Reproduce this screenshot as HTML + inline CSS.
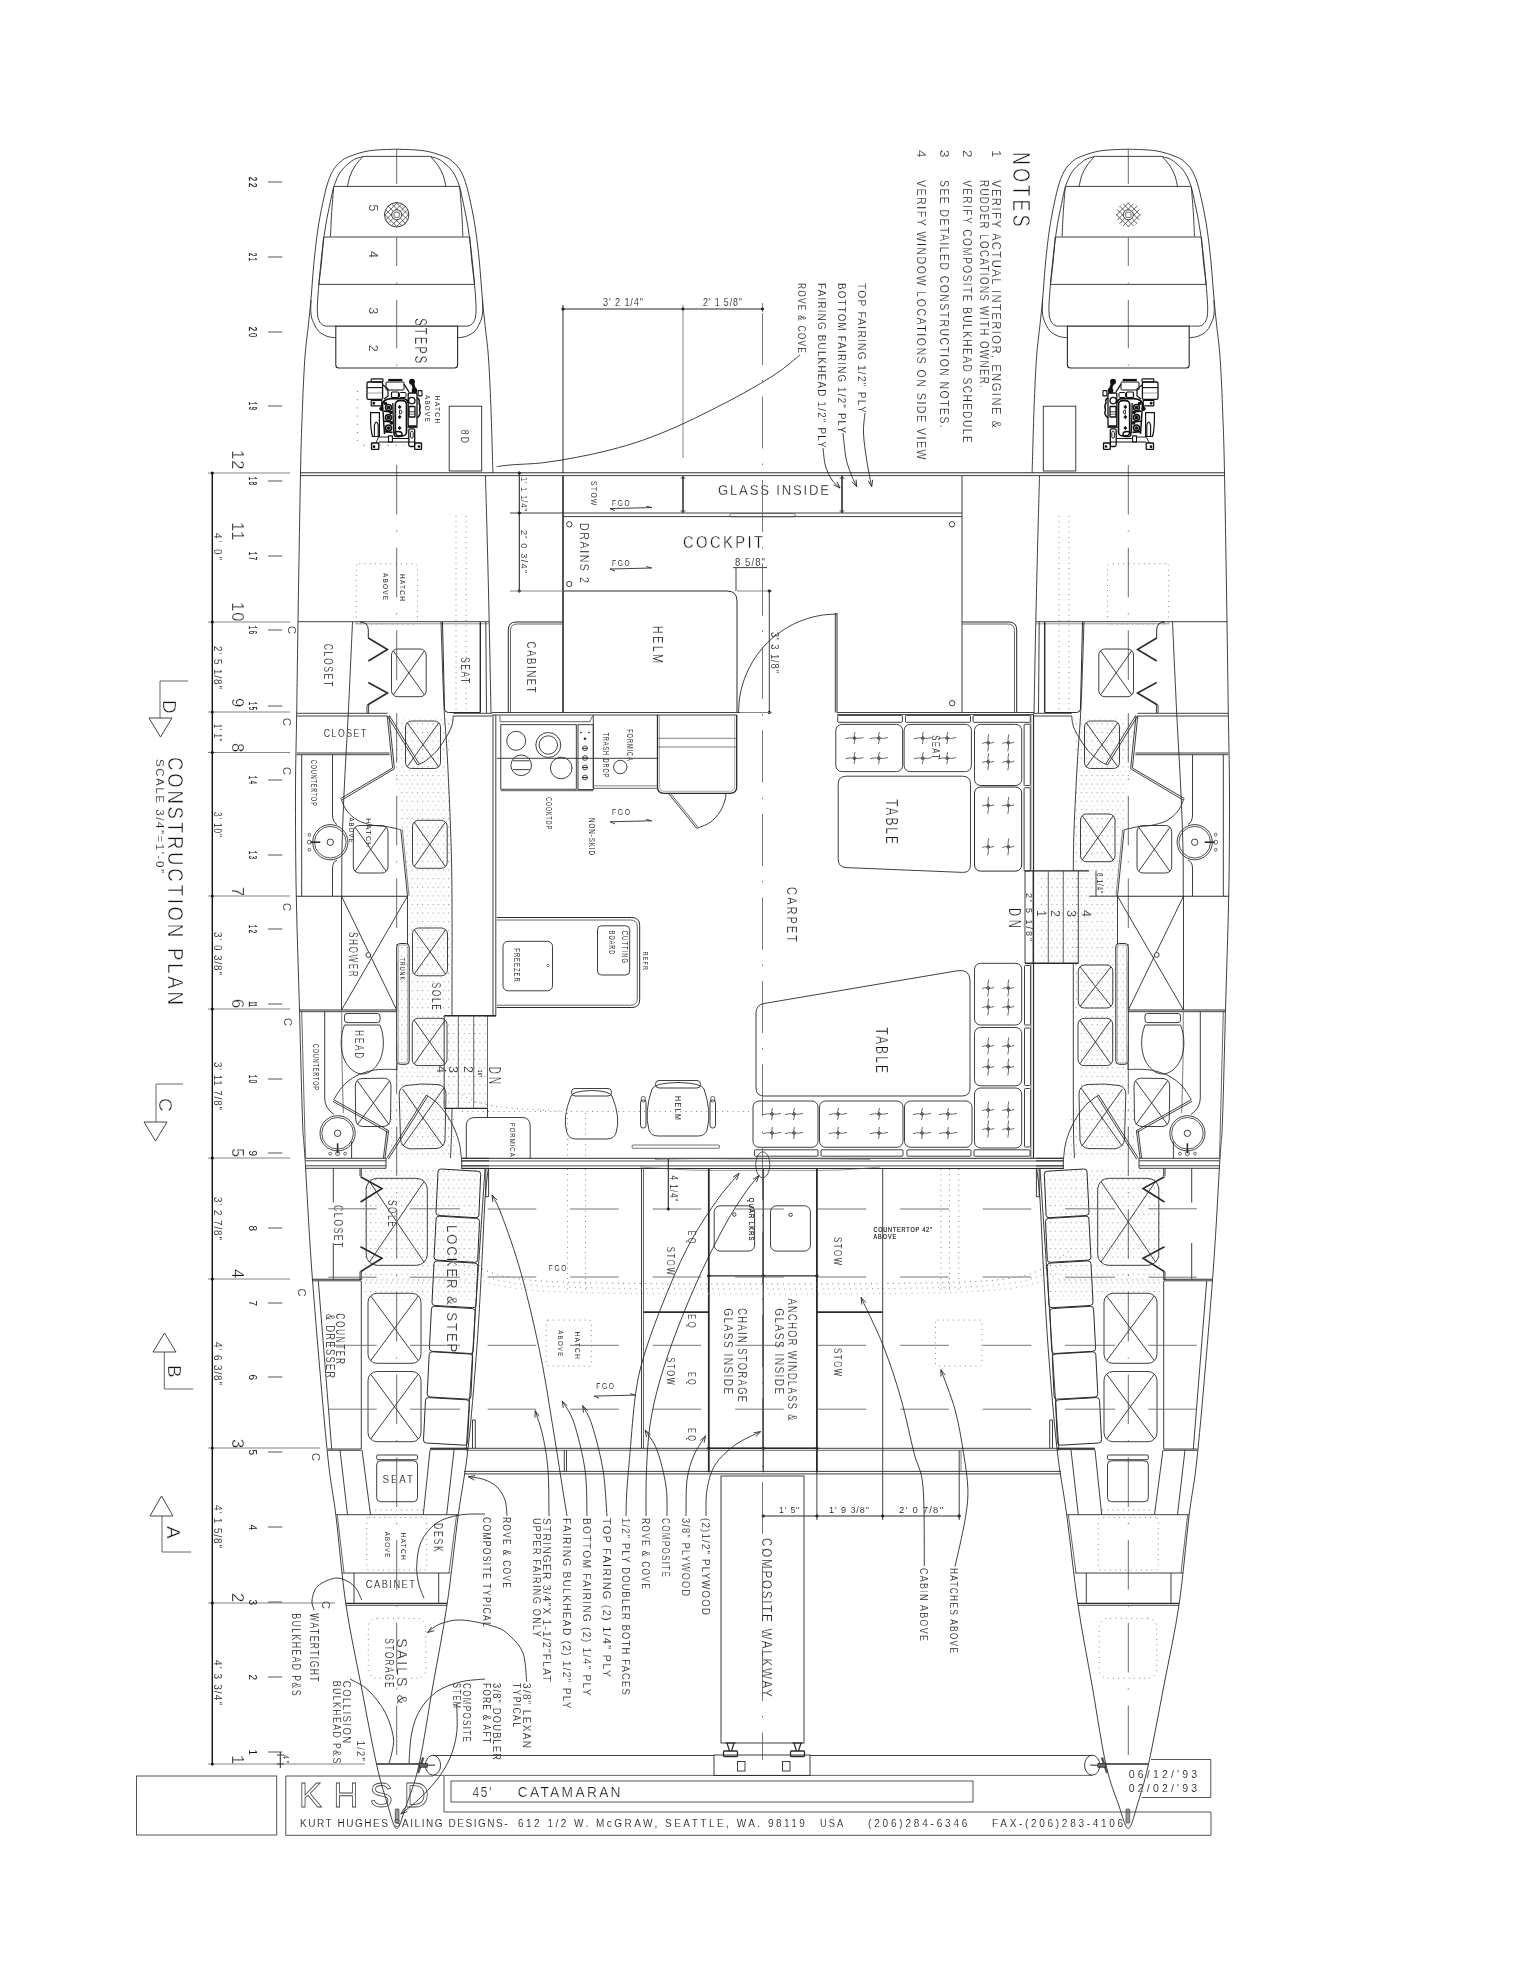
<!DOCTYPE html><html><head><meta charset="utf-8"><title>Construction Plan</title><style>html,body{margin:0;padding:0;background:#fff}svg{display:block;filter:grayscale(1)}</style></head><body><svg width="1530" height="1980" viewBox="0 0 1530 1980" fill="none" stroke="#2a2a2a" stroke-width="0.9" font-family="Liberation Sans, sans-serif">
<defs><clipPath id="hc"><circle cx="396.7" cy="214.8" r="12.2"/></clipPath>
<pattern id="stip" width="5.2" height="8.6" patternUnits="userSpaceOnUse"><rect x="1" y="1" width="1" height="1" fill="#8a8a8a" stroke="none"/><rect x="3.6" y="5.3" width="1" height="1" fill="#c4c4c4" stroke="none"/></pattern>
<g id="hull"><path d="M388 716H453L448 760L452 870V1015H444V1108H452L461 1158H386L388 1130L397 1070V944H408V896L401 830L395 768Z" fill="url(#stip)" stroke="none"/>
<path d="M386 1168H488L478 1300H366L361 1280V1168Z" fill="url(#stip)" stroke="none"/>
<path d="M396.7 149.2C393.9 149.3 384.6 149.5 379.8 149.8C375 150.1 371.5 150.4 368 151C364.5 151.6 361.6 152.4 358.6 153.3C355.6 154.2 352.6 155.2 350 156.3C347.4 157.4 345.3 157.9 342.7 160C340.1 162.1 336.7 164.9 334.2 168.6C331.7 172.3 329.8 176.6 327.9 182.4C326 188.2 324.3 195.7 322.6 203.6C320.9 211.5 319.2 220.3 317.8 230C316.4 239.7 315.1 250.5 314 262C312.9 273.5 311.9 288.4 311 299C310.1 309.6 309.3 316 308.3 325.6C307.3 335.2 306 343.2 305 356.7C304 370.2 303.2 387.3 302.5 406.7C301.8 426.1 301.2 437.1 300.5 473C299.8 508.9 298.6 582 298 622C297.4 662 297.1 685 296.7 713C296.3 741 295.6 759.3 295.5 790C295.4 820.7 295.6 860.3 296.3 897C297 933.7 298.5 972.8 299.5 1010C300.5 1047.2 301.6 1095.3 302.5 1120C303.4 1144.7 303.3 1131.3 305 1158C306.7 1184.7 308.8 1231.5 312.5 1280C316.2 1328.5 323.1 1409.9 327 1449C330.9 1488.1 332.6 1488.7 335.8 1514.7C339 1540.7 341.8 1576.6 346 1605C350.2 1633.4 355.9 1658.3 361 1685C366.1 1711.7 372.2 1744.8 376.7 1765C381.2 1785.2 385.2 1796.2 388 1806C390.8 1815.8 392.1 1820.2 393.5 1824C394.9 1827.8 396.2 1828.2 396.7 1829" />
<path d="M396.7 149.2C399.5 149.3 408.8 149.5 413.6 149.8C418.4 150.1 421.9 150.4 425.4 151C428.9 151.6 431.8 152.4 434.8 153.3C437.8 154.2 440.8 155.2 443.4 156.3C446 157.4 448.1 157.9 450.7 160C453.3 162.1 456.7 164.9 459.2 168.6C461.7 172.3 463.6 176.6 465.5 182.4C467.4 188.2 469.1 195.7 470.8 203.6C472.5 211.5 474.2 220.3 475.6 230C477 239.7 478.3 250.5 479.4 262C480.5 273.5 481.4 288.4 482.4 299C483.3 309.6 484.1 316 485.1 325.6C486.1 335.2 487.4 343.2 488.4 356.7C489.4 370.2 490.1 387.3 490.9 406.7C491.6 426.1 492.6 461.9 492.9 473" />
<path d="M485.5 476C485.8 488.3 486.9 525.7 487.5 550C488.1 574.3 488.6 594.8 489.2 622C489.8 649.2 490.7 697.8 491 713" />
<path d="M488.3 1168C487.8 1173.3 486.1 1183 485 1200C483.9 1217 482.9 1245 481.5 1270C480.1 1295 478.9 1320.2 476.7 1350C474.4 1379.8 471.1 1421.5 468 1449C464.9 1476.5 461.8 1488.7 458.3 1514.7C454.8 1540.7 451.2 1576.6 447 1605C442.8 1633.4 437.7 1658.3 433 1685C428.3 1711.7 423.5 1744.8 419 1765C414.5 1785.2 409.2 1796.2 406 1806C402.8 1815.8 401.6 1820.2 400 1824C398.4 1827.8 397.2 1828.2 396.7 1829" />
<path d="M364 156.4C362.7 156.8 358.3 157.6 356 158.6C353.7 159.6 352.6 160.1 350 162.3C347.4 164.5 343.2 167.9 340.6 171.8C338 175.7 336 180.3 334.2 185.6C332.4 190.9 331.4 197.1 330 203.6C328.6 210.1 327 217.7 325.8 224.8C324.6 231.9 323.7 239 322.8 246C321.9 253 321.2 259.9 320.5 267C319.8 274.1 319 281.4 318.5 288.5C318 295.6 317.2 304.4 317.3 309.7C317.4 315 317.8 317.7 318.9 320.3C319.9 322.9 321.8 324.5 323.6 325.5C325.5 326.5 328 326 330 326.1C332 326.2 334.8 326.1 335.8 326.1" />
<path d="M429.4 156.4C430.7 156.8 435.1 157.6 437.4 158.6C439.7 159.6 440.8 160.1 443.4 162.3C446 164.5 450.2 167.9 452.8 171.8C455.4 175.7 457.4 180.3 459.2 185.6C461 190.9 462 197.1 463.4 203.6C464.8 210.1 466.4 217.7 467.6 224.8C468.8 231.9 469.7 239 470.6 246C471.5 253 472.2 259.9 472.9 267C473.6 274.1 474.4 281.4 474.9 288.5C475.4 295.6 476.2 304.4 476.1 309.7C476 315 475.6 317.7 474.5 320.3C473.4 322.9 471.6 324.5 469.8 325.5C467.9 326.5 465.4 326 463.4 326.1C461.4 326.2 458.6 326.1 457.6 326.1" />
<path d="M364 156.4L429.4 156.4" />
<path d="M311 300C311 301.9 310.6 308.3 310.8 311.7C311.1 315.1 311.2 317.1 312.5 320.3C313.8 323.5 315.9 328.2 318.3 330.9C320.7 333.5 323.9 335 326.8 336.2C329.7 337.4 334.3 337.5 335.8 337.8" />
<path d="M482.4 300C482.4 301.9 482.8 308.3 482.6 311.7C482.3 315.1 482.1 317.1 480.9 320.3C479.6 323.5 477.5 328.2 475.1 330.9C472.7 333.5 469.5 335 466.6 336.2C463.7 337.4 459.1 337.5 457.6 337.8" />
<path d="M362.9 156.4C361.6 158 357.1 162.7 355 166C352.9 169.3 351.2 172.6 350 176C348.8 179.4 347.9 184.7 347.5 186.4" />
<path d="M430.5 156.4C431.8 158 436.2 162.7 438.4 166C440.5 169.3 442.1 172.6 443.4 176C444.6 179.4 445.5 184.7 445.9 186.4" />
<path d="M333.7 186.7C333.3 191.4 332 206.7 331.5 215C331 223.3 330.7 232.9 330.5 236.5" />
<path d="M459.7 186.7C460.1 191.4 461.4 206.7 461.9 215C462.4 223.3 462.7 232.9 462.9 236.5" />
<path d="M323.6 237C323.2 241.2 322.3 254.2 321.5 262C320.7 269.8 319.3 280.3 318.9 284" />
<path d="M469.8 237C470.1 241.2 471.1 254.2 471.9 262C472.7 269.8 474.1 280.3 474.5 284" />
<path d="M334.2 186.4L459.2 186.4" />
<path d="M324.2 237L469.2 237" />
<path d="M318.5 284.4L474.9 284.4" />
<path d="M335.8 326.1H457.6 V365 Q457.6 368 454.6 368 H338.8 Q335.8 368 335.8 365Z" stroke-width="1.1" />
<g clip-path="url(#hc)" stroke-width="0.7">
<path d="M353.7 200.8L381.7 228.8" />
<path d="M353.7 228.8L381.7 200.8" />
<path d="M359.5 200.8L387.5 228.8" />
<path d="M359.5 228.8L387.5 200.8" />
<path d="M365.3 200.8L393.3 228.8" />
<path d="M365.3 228.8L393.3 200.8" />
<path d="M371.1 200.8L399.1 228.8" />
<path d="M371.1 228.8L399.1 200.8" />
<path d="M376.9 200.8L404.9 228.8" />
<path d="M376.9 228.8L404.9 200.8" />
<path d="M382.7 200.8L410.7 228.8" />
<path d="M382.7 228.8L410.7 200.8" />
<path d="M388.5 200.8L416.5 228.8" />
<path d="M388.5 228.8L416.5 200.8" />
<path d="M394.3 200.8L422.3 228.8" />
<path d="M394.3 228.8L422.3 200.8" />
<path d="M400.1 200.8L428.1 228.8" />
<path d="M400.1 228.8L428.1 200.8" />
<path d="M405.9 200.8L433.9 228.8" />
<path d="M405.9 228.8L433.9 200.8" />
<path d="M411.7 200.8L439.7 228.8" />
<path d="M411.7 228.8L439.7 200.8" />
</g>
<circle cx="396.7" cy="214.8" r="5" fill="#fff"/>
<rect x="394.1" y="212.2" width="5.2" height="5.2" rx="0.8" stroke-width="0.7" />
<rect x="356.3" y="563.7" width="61.2" height="60.3" rx="3" class="dot"/>
<path d="M466 516L466 710" class="dot"/>
<path d="M456 516L456 710" class="dot"/>
<path d="M298 621.7L489 621.7" />
<path d="M355 623.8L489 623.8" stroke="#888" />
<path d="M296.7 713.3L387.5 713.3" />
<path d="M296.7 716L387.5 716" />
<path d="M453.3 713.3L492 713.3" />
<path d="M453.3 716L492 716" />
<path d="M296.7 753L389.5 753" />
<path d="M296.7 754.7L389.7 754.7" />
<path d="M296.3 896.2L407.5 896.2" stroke-width="1.1" />
<path d="M299.5 1010L396.7 1010" stroke-width="1.1" />
<path d="M299.5 1011.7L396.7 1011.7" />
<path d="M305.5 1158.3L386 1158.3" />
<path d="M461.7 1158.3L489 1158.3" />
<path d="M305.5 1160.8L386 1160.8" />
<path d="M461.7 1160.8L489 1160.8" />
<path d="M305.5 1165.8L386 1165.8" />
<path d="M461.7 1165.8L489 1165.8" />
<path d="M305.5 1168.3L386 1168.3" />
<path d="M461.7 1168.3L489 1168.3" />
<path d="M386 1158.3L386 1168.3" />
<path d="M461.7 1158.3L461.7 1168.3" />
<path d="M312.5 1279.2L361 1279.2" stroke-width="1.1" />
<path d="M312.5 1280.8L361 1280.8" />
<path d="M327.5 1449L361.3 1449" />
<path d="M327.5 1450.3L361.3 1450.3" />
<path d="M430 1448.3L468 1448.3" />
<path d="M430 1449.6L468 1449.6" />
<path d="M335.8 1514.7L458.3 1514.7" />
<path d="M342 1573L450.3 1573" />
<path d="M346 1603.3L447 1603.3" stroke-width="1.2" />
<path d="M346 1605.3L447 1605.3" />
<path d="M354 1573L354 1603" />
<path d="M438.7 1573L438.7 1603" />
<path d="M376.7 1764L419 1764" stroke-width="1.4" />
<path d="M442.5 622L444.5 709Q445 712.5 448.5 712.5H480.3" stroke-width="1" />
<path d="M480.3 622L480.3 712.5" stroke-width="1.4" />
<path d="M485.8 622L486.5 713" />
<path d="M352.5 622C351.8 637.2 349.7 685 348.3 713C346.9 741 345.2 767.2 344.2 790C343.1 812.8 342.4 832.2 342 850C341.6 867.8 341.8 889.2 341.7 897" />
<path d="M341.7 1012C341.8 1020 341.7 1043.2 342 1060C342.3 1076.8 343.1 1104.2 343.3 1113" stroke="#666" />
<path d="M360 622Q368.3 622 368.3 630V638" stroke-width="1" />
<path d="M368.3 638L387.5 649.5L368.3 661" stroke-width="1.6" />
<path d="M368.3 682.5L387.5 693L367.5 705" stroke-width="1.6" />
<path d="M367 705L367 713" />
<path d="M368.6 705L368.6 713" />
<path d="M387.5 716L417.5 765" />
<path d="M389.3 715.5L419.2 764" />
<path d="M453.3 716C453.1 717.5 453 721.8 452 725C451 728.2 450 730.8 447.5 735C445 739.2 440.6 746.2 437 750.5C433.4 754.8 429.2 758.1 426 760.5C422.8 762.9 419.2 764.2 417.8 765" />
<path d="M387.2 716L392.6 768L341 798.3" />
<path d="M389 716L394.4 768.8L342 799.9" />
<path d="M340.8 798.3C341.8 800.4 344.1 807.3 347 811C349.9 814.7 353.6 818.1 358 820.5C362.4 822.9 368.6 824.3 373.3 825.3C378 826.3 381.4 825.8 386 826.5C390.6 827.2 398.3 829.2 400.8 829.7" />
<path d="M400.8 829.7L407.5 896" />
<path d="M402.4 829.7L409 896" stroke="#777" />
<path d="M301.7 754.7L301.7 896" />
<path d="M332.5 754.7V815Q332.5 822 337 824.5" stroke-width="0.9" />
<path d="M337 860Q332.5 862 332.5 868V896" stroke-width="0.9" />
<circle cx="330.3" cy="842.2" r="17.6" /><circle cx="330.3" cy="842.2" r="15.8" stroke-width="0.8" /><circle cx="330.3" cy="842.2" r="3.2" /><path d="M320.3 842.2L310.3 842.2" stroke-width="1.6" /><circle cx="309.3" cy="834.7" r="1.4" stroke-width="0.7" /><circle cx="309.3" cy="842.2" r="2" stroke-width="0.7" /><circle cx="309.3" cy="849.7" r="1.4" stroke-width="0.7" />
<path d="M324.7 1011.7V1098Q324.7 1108 334 1114.5" stroke-width="0.9" />
<circle cx="337.6" cy="1133.3" r="17.6" /><circle cx="337.6" cy="1133.3" r="15.8" stroke-width="0.8" /><circle cx="337.6" cy="1133.3" r="3.2" /><path d="M337.6 1143.3L337.6 1153.3" stroke-width="1.6" /><circle cx="330.1" cy="1153.6" r="1.4" stroke-width="0.7" /><circle cx="337.6" cy="1153.6" r="2" stroke-width="0.7" /><circle cx="345.1" cy="1153.6" r="1.4" stroke-width="0.7" />
<path d="M351.6 1141.6L351.6 1158" />
<path d="M301.7 1011.7L305.5 1158" stroke="#555" />
<path d="M341.5 896.2L341.5 1010" />
<path d="M407.5 896.2L407.5 944" />
<path d="M407.5 896.2L341.5 1010" />
<path d="M341.5 896.2L396.7 1010" />
<circle cx="368.3" cy="955" r="2.4" fill="#fff"/>
<rect x="396.7" y="943.5" width="12.5" height="120.8" rx="3.5" stroke-width="1" />
<rect x="398.3" y="945" width="9.4" height="117.8" rx="2.5" stroke-width="0.6" stroke="#777" />
<path d="M396.9 1064L396.9 1070" />
<rect x="344.5" y="1013.5" width="35.5" height="9.1" rx="2.5" />
<path d="M344.5 1025H380C384.5 1036 384.5 1050 380 1060C375 1070 368 1074 362.3 1074C356.5 1074 349.5 1070 344.5 1060C340 1050 340 1036 344.5 1025Z" />
<path d="M388.6 1130.6L333.7 1099.7" />
<path d="M387.8 1132.2L332.9 1101.3" />
<path d="M333.7 1099.7C335.2 1097.4 339.3 1090 343 1086C346.7 1082 351.2 1078.6 356 1076C360.8 1073.4 367.2 1071.6 372 1070.5C376.8 1069.4 380.8 1069.5 385 1069.3C389.2 1069.1 395 1069.5 397 1069.5" />
<path d="M388.6 1130.6L385 1158" />
<path d="M386.8 1130.6L383.4 1158" />
<path d="M386.6 1158.5L426.4 1095" />
<path d="M388.3 1159.2L428 1096" />
<path d="M426.4 1095C428.2 1096.3 433.6 1099.7 437 1103C440.4 1106.3 444.1 1110.7 447 1115C449.9 1119.3 452.4 1124.2 454.5 1129C456.6 1133.8 458.4 1139.2 459.5 1144C460.6 1148.8 461.1 1155.7 461.4 1158" />
<rect x="391.5" y="649" width="34.7" height="47.7" rx="6" /><path d="M393.3 650.8L424.4 694.9" /><path d="M424.4 650.8L393.3 694.9" />
<rect x="405.5" y="721" width="35" height="47.5" rx="6" /><path d="M407.3 722.8L438.7 766.7" /><path d="M438.7 722.8L407.3 766.7" />
<rect x="353.3" y="825.5" width="34.7" height="47.5" rx="6" /><path d="M355.1 827.3L386.2 871.2" /><path d="M386.2 827.3L355.1 871.2" />
<rect x="412.3" y="1018.3" width="34.7" height="47.3" rx="6" /><path d="M414.1 1020.1L445.2 1063.8" /><path d="M445.2 1020.1L414.1 1063.8" />
<path d="M406 1085.5Q420 1083 438 1084.5Q446 1086 446 1094L445 1140Q444 1148 436 1148.5L410 1148.8Q401 1147 400.5 1139L399.2 1094Q399.5 1087 406 1085.5Z" />
<path d="M402.5 1089L443 1146" />
<path d="M444 1088L403 1146" />
<path d="M362 1078.5L384.5 1078.2Q391 1079 391 1086L390.5 1119Q390 1126 383 1126.5L363 1126.5Q356 1126 355.7 1119L355.3 1086Q355.5 1079 362 1078.5Z" />
<path d="M357.5 1081L389 1124.5" />
<path d="M389.5 1081L357.5 1124.5" />
<path d="M360 1168.3L360 1176" />
<path d="M361.3 1168.3L361.3 1176" />
<path d="M360.5 1176.7L382 1188.5L360.5 1202" stroke-width="1.6" />
<path d="M360.5 1246.7L382 1258.3L360.5 1271.7" stroke-width="1.6" />
<path d="M360 1271.7L360 1280" />
<path d="M361.3 1271.7L361.3 1280" />
<path d="M333.3 1168.3L333.3 1202.5" />
<path d="M333.3 1243L333.3 1279" />
<rect x="366.2" y="1178.3" width="61.1" height="87" rx="11" /><path d="M369.5 1181.6L424 1262" /><path d="M424 1181.6L369.5 1262" />
<rect x="368" y="1293.3" width="53" height="70" rx="9" /><path d="M370.7 1296L418.3 1360.6" /><path d="M418.3 1296L370.7 1360.6" />
<rect x="368" y="1371.5" width="53" height="70.2" rx="9" /><path d="M370.7 1374.2L418.3 1439" /><path d="M418.3 1374.2L370.7 1439" />
<path d="M361.3 1280.8L361.3 1449" />
<path d="M318.3 1281L331.7 1449" />
<path d="M485 1169L466.2 1449" />
<path d="M438 1171.8Q438.2 1168.8 441.2 1169L477.8 1171.2Q480.8 1171.4 480.7 1174.4L478.9 1214.9Q478.8 1217.9 475.8 1217.7L438.8 1215.5Q435.8 1215.3 436 1212.3Z" stroke-width="1" />
<path d="M436.1 1219Q436.3 1216 439.3 1216.2L476.6 1218.4Q479.6 1218.6 479.5 1221.6L477.7 1259.5Q477.6 1262.5 474.6 1262.3L436.9 1260.1Q433.9 1259.9 434.1 1256.9Z" stroke-width="1" />
<path d="M434 1263.7Q434.2 1260.7 437.2 1260.9L474.9 1263.1Q477.9 1263.3 477.8 1266.3L476 1304.9Q475.9 1307.9 472.9 1307.7L434.8 1305.5Q431.8 1305.3 432 1302.3Z" stroke-width="1" />
<path d="M431.4 1309.1Q431.6 1306.1 434.6 1306.3L472.2 1308.5Q475.2 1308.7 475.1 1311.7L473.3 1350.7Q473.2 1353.7 470.2 1353.5L432.2 1351.3Q429.2 1351.1 429.4 1348.1Z" stroke-width="1" />
<path d="M429.2 1354.6Q429.4 1351.6 432.4 1351.8L469.8 1354Q472.8 1354.2 472.7 1357.2L470.9 1396.4Q470.8 1399.4 467.8 1399.2L430 1397Q427 1396.8 427.2 1393.8Z" stroke-width="1" />
<path d="M425.5 1400.4Q425.7 1397.4 428.7 1397.6L466.5 1399.8Q469.5 1400 469.4 1403L467.6 1442.4Q467.5 1445.4 464.5 1445.2L426.3 1443Q423.3 1442.8 423.5 1439.8Z" stroke-width="1" />
<path d="M485.8 1169L485.8 1196.7" />
<path d="M488.6 1169L488.6 1196.7" />
<path d="M485.8 1196.7L488.6 1196.7" />
<path d="M472.5 1420L472.5 1448" />
<path d="M475.3 1420L475.3 1448" />
<path d="M472.5 1420L475.3 1420" />
<rect x="376.7" y="1455" width="40.8" height="4.7" rx="1" />
<rect x="376.7" y="1460.8" width="40.8" height="40.9" rx="4" />
<path d="M340 1450L347.5 1514.7" />
<path d="M362 1450L370.5 1514.7" />
<path d="M454 1450L446.7 1514.7" />
<path d="M430 1450L423.3 1514.7" />
<path d="M370 1510L423 1510" class="dot"/>
<path d="M337.3 1515L344 1573" stroke="#555" />
<path d="M456.6 1515L449 1573" stroke="#555" />
<rect x="366.7" y="1517.5" width="60" height="52.5" rx="2" class="dot"/>
<rect x="368.3" y="1618.3" width="57.5" height="60" rx="9" class="dot"/>
<rect x="395.3" y="1809" width="3.7" height="14" rx="0.5" stroke-width="0.6" fill="#999"/>
<path d="M396.7 465L396.7 1760" stroke-width="0.8" stroke="#444" stroke-dasharray="49.5 16 1.2 16"/>
<path d="M396.7 149L396.7 184" stroke-width="0.8" stroke="#444" />
<path d="M396.7 237.5L396.7 266" stroke-width="0.8" stroke="#444" />
<path d="M396.7 282.5L396.7 283.7" stroke-width="0.8" stroke="#444" />
<path d="M396.7 300L396.7 348.3" stroke-width="0.8" stroke="#444" />
<path d="M396.7 364.5L396.7 365.7" stroke-width="0.8" stroke="#444" />
<path d="M328.3 1208.8L376.7 1208.8" stroke="#666" />
<path d="M410 1208.8L460 1208.8" stroke="#666" />
<path d="M328.3 1277.2L376.7 1277.2" stroke="#666" />
<path d="M410 1277.2L460 1277.2" stroke="#666" />
<path d="M328.3 1345.3L376.7 1345.3" stroke="#666" />
<path d="M410 1345.3L460 1345.3" stroke="#666" />
<path d="M328.3 1409.2L376.7 1409.2" stroke="#666" />
<path d="M410 1409.2L460 1409.2" stroke="#666" />
<path d="M366 1280L469 1280" class="dot"/></g><g id="eng"><g stroke="#111" stroke-width="1.1"><rect x="367" y="382" width="15.6" height="17.4" rx="1.5" stroke-width="1.3" /><path d="M367 387.6L382.6 387.6" /><rect x="371.2" y="378.8" width="11.8" height="3.2" rx="0.8" stroke-width="1.2" /><path d="M368 393L382 393" stroke-width="0.6" stroke="#666" /><path d="M388.2 380L402.4 380" stroke-width="2.2" /><rect x="386" y="382" width="18" height="8" rx="1" stroke-width="1" /><rect x="391.5" y="392" width="7" height="5.5" rx="1" stroke-width="1.2" /><rect x="399.5" y="392.5" width="6.5" height="5" rx="1" stroke-width="1" /><path d="M383 385L388 389L388 396L384 399" stroke-width="1.2" /><path d="M404 384L409 392" stroke-width="1.4" /><circle cx="412" cy="381.8" r="2.4" fill="#111"/><path d="M412.5 383L414.7 389.6" stroke-width="3" /><circle cx="414.5" cy="390.5" r="2.3" fill="#111"/><rect x="408.2" y="393" width="8.8" height="32.9" rx="1" stroke-width="1.3" /><circle cx="411.8" cy="400.6" r="3.2" stroke-width="1.3" /><rect x="409" y="406.5" width="6" height="10.5" rx="0.6" stroke-width="1.3" /><path d="M409 411.8L415 411.8" stroke-width="0.8" /><path d="M409 414.2L415 414.2" stroke-width="0.6" /><rect x="418.2" y="390.6" width="3.8" height="5.3" rx="0.5" stroke-width="1.1" /><path d="M417 398Q420 399 419 403Q421 406 419.5 410Q421 413 419 416L417 418" stroke-width="1.4" /><path d="M382 411V406Q382.5 399 391 398.6H403Q407.5 399 408 403" stroke-width="1.8" /><rect x="395.3" y="400.6" width="11.2" height="35.3" rx="4" stroke-width="1.7" /><path d="M399.7 405.3L401.2 407L399.7 408.7L398.2 407Z" stroke-width="0.8" fill="#111"/><path d="M399.7 415.3L401.2 417L399.7 418.7L398.2 417Z" stroke-width="0.8" fill="#111"/><path d="M399.7 426.3L401.2 428L399.7 429.7L398.2 428Z" stroke-width="0.8" fill="#111"/><path d="M399.5 410.2H401Q403 412 401 413.8H399.5Z" stroke-width="0.9" /><rect x="371.2" y="400.3" width="10.6" height="5.6" rx="0.4" stroke-width="1.2" /><circle cx="373.8" cy="403.2" r="0.9" fill="#111"/><path d="M370.6 412.6H379.4V436.5H372.5Q370.3 430 370.6 412.6Z" stroke-width="1.2" /><path d="M374.4 436.5V425Q376.3 419 378.2 425V436.5" stroke-width="1.1" /><circle cx="388.5" cy="407.5" r="3" stroke-width="1.6" /><circle cx="388.5" cy="407.5" r="1.3" fill="#111"/><path d="M384 411.1L392.5 411.9" stroke-width="1.6" /><circle cx="388.5" cy="417.6" r="3" stroke-width="1.6" /><circle cx="388.5" cy="417.6" r="1.3" fill="#111"/><path d="M384 421.2L392.5 422" stroke-width="1.6" /><circle cx="388.5" cy="428" r="3" stroke-width="1.6" /><circle cx="388.5" cy="428" r="1.3" fill="#111"/><path d="M384 431.6L392.5 432.4" stroke-width="1.6" /><path d="M382.5 404L384.5 434" stroke-width="1.5" /><path d="M392.8 403L393.6 433" stroke-width="1.3" /><circle cx="381.3" cy="408.8" r="1.5" fill="#111"/><circle cx="385.5" cy="403.5" r="1.2" fill="#111"/><circle cx="391" cy="412.5" r="1.2" fill="#111"/><circle cx="391.3" cy="423" r="1.2" fill="#111"/><rect x="408.8" y="428.8" width="5.9" height="17.7" rx="1.5" stroke-width="1.3" /><rect x="410.6" y="431.2" width="2.6" height="7" rx="1.2" stroke-width="0.9" /><path d="M407.5 427L417.5 427" stroke-width="1.8" /><ellipse cx="398" cy="434" rx="4" ry="2.6" stroke-width="1.5"/><rect x="388.5" y="435.9" width="3.9" height="6.1" rx="0.3" stroke-width="1.1" /><path d="M379 437L389 437" stroke-width="0.9" /><path d="M379 442L415 442" stroke-width="1.2" /><path d="M393 438.5L408.5 438.5" stroke-width="1" /><rect x="371.5" y="443" width="7.3" height="6.4" rx="0.5" stroke-width="1.3" /><rect x="414.7" y="443" width="6.8" height="6.4" rx="0.5" stroke-width="1.3" /><circle cx="374" cy="446.7" r="0.8" fill="#111"/><circle cx="419" cy="446.5" r="0.8" fill="#111"/><path d="M376 443L378.5 437" stroke-width="0.9" /></g></g></defs>
<style>text{fill:#151515} .dot{stroke:#888;stroke-dasharray:1 4.2;stroke-width:1} .g{stroke:#777}</style>
<rect width="1530" height="1980" fill="#fff" stroke="none"/>
<use href="#hull"/><use href="#eng"/>
<g transform="translate(1525 0) scale(-1 1)"><use href="#hull"/><use href="#eng"/></g>
<rect x="412.5" y="820.3" width="34.7" height="48" rx="6" /><path d="M414.3 822.1L445.4 866.5" /><path d="M445.4 822.1L414.3 866.5" />
<rect x="412.5" y="928" width="35" height="47.8" rx="6" /><path d="M414.3 929.8L445.7 974" /><path d="M445.7 929.8L414.3 974" />
<rect x="444" y="1016" width="43" height="92" fill="url(#stip)" stroke="none"/>
<path d="M487.5 1108.3L487.5 1117.5" />
<path d="M444.2 1015.8L496 1015.8" stroke-width="1.5" />
<path d="M444.2 1108.3L487.5 1108.3" stroke-width="1.2" />
<path d="M444.2 1015.8L444.2 1108.3" />
<path d="M458.3 1015.8L458.3 1108.3" stroke="#555" />
<path d="M473.7 1015.8L473.7 1108.3" stroke="#555" />
<path d="M487.5 1015.8L487.5 1108.3" stroke="#555" />
<text transform="translate(437.2 1066) rotate(90)" font-size="12.5" stroke="#fff" stroke-width="0.19" >4</text>
<text transform="translate(449 1066) rotate(90)" font-size="12.5" stroke="#fff" stroke-width="0.19" >3</text>
<text transform="translate(463.8 1066) rotate(90)" font-size="12.5" stroke="#fff" stroke-width="0.19" >2</text>
<text transform="translate(478.2 1070) rotate(90) scale(0.782 1)" font-size="5" letter-spacing="0.81" stroke="#151515" stroke-width="0.18" >16&quot;</text>
<text transform="translate(489.1 1066.7) rotate(90) scale(0.595 1)" font-size="16.5" letter-spacing="5.23" stroke="#fff" stroke-width="0.33" >DN</text>
<path d="M441 622C441.5 636.1 442.9 683.7 444 706.7C445.1 729.7 446.2 732.8 447.5 760C448.8 787.2 450.9 827.5 451.7 870C452.4 912.5 451.9 990.8 452 1015" />
<path d="M452 1108C451.9 1111.7 451.9 1121.7 451.7 1130C451.4 1138.3 450.7 1153.3 450.5 1158" />
<circle cx="396.7" cy="214.8" r="12.2" />
<text transform="translate(369 204.4) rotate(90)" font-size="12.5" stroke="#fff" stroke-width="0.19" >5</text>
<text transform="translate(369 251) rotate(90)" font-size="12.5" stroke="#fff" stroke-width="0.19" >4</text>
<text transform="translate(369 307.2) rotate(90)" font-size="12.5" stroke="#fff" stroke-width="0.19" >3</text>
<text transform="translate(369 344.8) rotate(90)" font-size="12.5" stroke="#fff" stroke-width="0.19" >2</text>
<text transform="translate(415 318.3) rotate(90) scale(0.703 1)" font-size="16" letter-spacing="2.88" stroke="#fff" stroke-width="0.31" >STEPS</text>
<text transform="translate(434.6 395.8) rotate(90) scale(0.836 1)" font-size="8" letter-spacing="1.48" stroke="#fff" stroke-width="0.03" >HATCH</text>
<text transform="translate(424.6 395) rotate(90) scale(0.794 1)" font-size="8" letter-spacing="1.51" stroke="#fff" stroke-width="0.03" >ABOVE</text>
<text transform="translate(460.9 429.7) rotate(90) scale(0.742 1)" font-size="11.5" letter-spacing="3.23" stroke="#fff" stroke-width="0.15" >8D</text>
<text transform="translate(400.1 574) rotate(90) scale(0.821 1)" font-size="8" letter-spacing="1.48" stroke="#fff" stroke-width="0.03" >HATCH</text>
<text transform="translate(383.1 573) rotate(90) scale(0.803 1)" font-size="8" letter-spacing="1.51" stroke="#fff" stroke-width="0.03" >ABOVE</text>
<text transform="translate(324.1 643.7) rotate(90) scale(0.647 1)" font-size="13.5" letter-spacing="2.37" stroke="#fff" stroke-width="0.22" >CLOSET</text>
<text transform="translate(323.7 736.7) scale(0.759 1)" font-size="11.5" letter-spacing="2.02" stroke="#fff" stroke-width="0.15" >CLOSET</text>
<text transform="translate(310.8 760) rotate(90) scale(0.599 1)" font-size="9" letter-spacing="1.53" stroke="#fff" stroke-width="0.07" >COUNTERTOP</text>
<text transform="translate(348.8 817.5) rotate(90) scale(0.744 1)" font-size="8" letter-spacing="1.51" stroke="#fff" stroke-width="0.03" >ABOVE</text>
<text transform="translate(365.9 818.3) rotate(90) scale(0.888 1)" font-size="8" letter-spacing="1.48" stroke="#fff" stroke-width="0.03" >HATCH</text>
<text transform="translate(461.3 657) rotate(90) scale(0.680 1)" font-size="12.5" letter-spacing="2.32" stroke="#fff" stroke-width="0.19" >SEAT</text>
<text transform="translate(348.8 932) rotate(90) scale(0.652 1)" font-size="12.5" letter-spacing="2.47" stroke="#fff" stroke-width="0.19" >SHOWER</text>
<text transform="translate(399.9 957.5) rotate(90) scale(0.670 1)" font-size="8" letter-spacing="1.51" stroke="#fff" stroke-width="0.03" >TRUNK</text>
<text transform="translate(432.2 982.5) rotate(90) scale(0.676 1)" font-size="12.5" letter-spacing="2.44" stroke="#fff" stroke-width="0.19" >SOLE</text>
<text transform="translate(355.1 1030) rotate(90) scale(0.619 1)" font-size="13.5" letter-spacing="2.74" stroke="#fff" stroke-width="0.22" >HEAD</text>
<text transform="translate(312.6 1044) rotate(90) scale(0.602 1)" font-size="9" letter-spacing="1.53" stroke="#fff" stroke-width="0.07" >COUNTERTOP</text>
<text transform="translate(334.1 1205) rotate(90) scale(0.645 1)" font-size="13.5" letter-spacing="2.37" stroke="#fff" stroke-width="0.22" >CLOSET</text>
<text transform="translate(388 1200) rotate(90) scale(0.656 1)" font-size="12.5" letter-spacing="2.44" stroke="#fff" stroke-width="0.19" >SOLE</text>
<text transform="translate(447.1 1225) rotate(90) scale(0.877 1)" font-size="15" letter-spacing="2.18" stroke="#fff" stroke-width="0.28" >LOCKER &amp; STEP</text>
<text transform="translate(335.7 1313.3) rotate(90) scale(0.701 1)" font-size="12" letter-spacing="2.17" stroke="#fff" stroke-width="0.17" >COUNTER</text>
<text transform="translate(326 1314) rotate(90) scale(0.760 1)" font-size="12" letter-spacing="1.90" stroke="#fff" stroke-width="0.17" >&amp; DRESSER</text>
<text transform="translate(382.5 1483.3) scale(0.857 1)" font-size="11.5" letter-spacing="2.14" stroke="#fff" stroke-width="0.15" >SEAT</text>
<text transform="translate(433.8 1523) rotate(90) scale(0.691 1)" font-size="12.5" letter-spacing="2.49" stroke="#fff" stroke-width="0.19" >DESK</text>
<text transform="translate(401.1 1532.5) rotate(90) scale(0.836 1)" font-size="8" letter-spacing="1.48" stroke="#fff" stroke-width="0.03" >HATCH</text>
<text transform="translate(384.6 1531.7) rotate(90) scale(0.767 1)" font-size="8" letter-spacing="1.51" stroke="#fff" stroke-width="0.03" >ABOVE</text>
<text transform="translate(365.8 1587.5) scale(0.887 1)" font-size="10.5" letter-spacing="1.66" stroke="#fff" stroke-width="0.12" >CABINET</text>
<text transform="translate(397.1 1638.3) rotate(90) scale(0.950 1)" font-size="15" letter-spacing="2.07" stroke="#fff" stroke-width="0.28" >SAILS &amp;</text>
<text transform="translate(384.5 1638.3) rotate(90) scale(0.663 1)" font-size="12.5" letter-spacing="2.23" stroke="#fff" stroke-width="0.19" >STORAGE</text>
<rect x="1080.5" y="814" width="34.5" height="47.7" rx="6" /><path d="M1082.3 815.8L1113.2 859.9" /><path d="M1113.2 815.8L1082.3 859.9" />
<rect x="1078.3" y="965" width="34.5" height="43" rx="6" /><path d="M1080.1 966.8L1111 1006.2" /><path d="M1111 966.8L1080.1 1006.2" />
<path d="M1084 622C1083.5 636.1 1082.1 683.7 1081 706.7C1079.9 729.7 1078.7 739.5 1077.5 760C1076.3 780.5 1074.7 811.5 1074 830C1073.3 848.5 1073.4 864 1073.3 870.8" />
<path d="M1073.3 963.3C1073.3 979.4 1073.3 1032.2 1073.3 1060C1073.3 1087.8 1073.3 1113.7 1073.5 1130C1073.7 1146.3 1074.3 1153.3 1074.5 1158" />
<rect x="1038" y="871" width="43" height="92" fill="url(#stip)" stroke="none"/>
<path d="M1025 870.8L1089 870.8" stroke-width="1.2" />
<path d="M1025 963.3L1078.3 963.3" stroke-width="1.4" />
<path d="M1078.3 870.8L1078.3 963.3" />
<path d="M1033.3 870.8L1033.3 963.3" stroke-width="1.3" />
<path d="M1025 870.8L1025 963.3" />
<path d="M1048.3 870.8L1048.3 963.3" stroke="#555" />
<path d="M1063.3 870.8L1063.3 963.3" stroke="#555" />
<text transform="translate(1081.5 910) rotate(90)" font-size="12.5" stroke="#fff" stroke-width="0.19" >4</text>
<text transform="translate(1066.5 910) rotate(90)" font-size="12.5" stroke="#fff" stroke-width="0.19" >3</text>
<text transform="translate(1050.5 910) rotate(90)" font-size="12.5" stroke="#fff" stroke-width="0.19" >2</text>
<text transform="translate(1036.5 910) rotate(90)" font-size="12.5" stroke="#fff" stroke-width="0.19" >1</text>
<text transform="translate(1096.9 873) rotate(90) scale(0.748 1)" font-size="8.5" letter-spacing="0.96" stroke="#fff" stroke-width="0.05" >8 1/4&quot;</text>
<path d="M1096 870.8L1096 896.2" />
<path d="M1089 896.2L1117.5 896.2" />
<text transform="translate(1025.8 893) rotate(90) scale(1.000 1)" font-size="9" letter-spacing="1.95" stroke="#fff" stroke-width="0.07" >2' 5 1/8&quot;</text>
<text transform="translate(1008.6 908) rotate(90) scale(0.688 1)" font-size="16.5" letter-spacing="5.23" stroke="#fff" stroke-width="0.33" >DN</text>
<path d="M300 472.8L1224.5 472.8" stroke-width="1" />
<path d="M300 475.6L1225 475.6" />
<path d="M510 513L962 513" />
<path d="M563 516.6L962 516.6" />
<path d="M563 476L563 712.5" stroke-width="1.6" />
<path d="M683 476L683 513" stroke-width="1.5" />
<path d="M842 476L842 513" stroke-width="1.6" />
<path d="M680.5 478L685.5 478" stroke-width="0.8" />
<path d="M680.5 511L685.5 511" stroke-width="0.8" />
<path d="M839.5 478L844.5 478" stroke-width="0.8" />
<path d="M839.5 511L844.5 511" stroke-width="0.8" />
<path d="M962 476L962 712.5" />
<rect x="730" y="513.6" width="65" height="3.2" rx="0.5" stroke-width="0.8" stroke="#555" />
<text transform="translate(718 495) scale(0.904 1)" font-size="14.5" letter-spacing="2.01" stroke="#fff" stroke-width="0.26" >GLASS INSIDE</text>
<text transform="translate(590.6 481) rotate(90) scale(0.709 1)" font-size="9.5" letter-spacing="2.07" stroke="#fff" stroke-width="0.08" >STOW</text>
<text transform="translate(612 505.5) scale(0.740 1)" font-size="9" letter-spacing="2.14" stroke="#fff" stroke-width="0.07" >FGO</text><path d="M610 508.6L651.8 507.6" /><path d="M610 508.6L615 510.7" /><path d="M651.8 507.6L646.3 506.2" />
<text transform="translate(612 566) scale(0.740 1)" font-size="9" letter-spacing="2.14" stroke="#fff" stroke-width="0.07" >FGO</text><path d="M610 569L651.8 568" /><path d="M610 569L615 571.1" /><path d="M651.8 568L646.3 566.6" />
<text transform="translate(683 548.3) scale(0.868 1)" font-size="17" letter-spacing="2.76" stroke="#fff" stroke-width="0.35" >COCKPIT</text>
<text transform="translate(735 566) scale(0.908 1)" font-size="10.5" letter-spacing="1.19" stroke="#fff" stroke-width="0.12" >8 5/8&quot;</text>
<path d="M733 567.6L767 567.6" />
<path d="M736 567.6L736 591" />
<text transform="translate(580.3 523) rotate(90) scale(0.821 1)" font-size="13" letter-spacing="1.88" stroke="#fff" stroke-width="0.21" >DRAINS 2</text>
<circle cx="569.3" cy="524.3" r="2.7" />
<circle cx="569.3" cy="584" r="2.7" />
<circle cx="952" cy="524.3" r="2.7" />
<circle cx="952.2" cy="703.2" r="2.7" />
<path d="M519.3 473L519.3 591" stroke-width="1.1" />
<circle cx="519.3" cy="473" r="1.2" fill="#222"/>
<circle cx="519.3" cy="513" r="1.2" fill="#222"/>
<circle cx="519.3" cy="591" r="1.2" fill="#222"/>
<path d="M510 591L563 591" stroke="#777" />
<text transform="translate(520.8 477) rotate(90) scale(0.860 1)" font-size="9" letter-spacing="0.89" stroke="#fff" stroke-width="0.07" >1' 1 1/4&quot;</text>
<text transform="translate(520.8 530) rotate(90) scale(1.000 1)" font-size="9" letter-spacing="1.32" stroke="#fff" stroke-width="0.07" >2' 0 3/4&quot;</text>
<path d="M563 591H727Q737 591 737 601V712.5" stroke-width="1" />
<path d="M769.3 591L769.3 712.5" stroke-width="0.9" />
<path d="M737 591L772 591" stroke="#777" />
<circle cx="769.3" cy="591" r="1.2" fill="#222"/>
<circle cx="769.3" cy="712.5" r="1.2" fill="#222"/>
<text transform="translate(770.9 632) rotate(90) scale(0.933 1)" font-size="10" letter-spacing="0.99" stroke="#fff" stroke-width="0.1" >3' 3 1/8&quot;</text>
<text transform="translate(652.8 625.7) rotate(90) scale(0.767 1)" font-size="14.5" letter-spacing="2.95" stroke="#fff" stroke-width="0.26" >HELM</text>
<path d="M837 613L837 712.5" stroke-width="1" />
<path d="M835.3 613L835.3 712.5" />
<path d="M837 614C834.4 614.2 826.7 614.4 821.6 615.2C816.5 616 811.4 617.2 806.6 618.8C801.7 620.4 796.9 622.4 792.3 624.7C787.7 627.1 783.3 629.8 779.1 632.8C774.9 635.8 771 639.2 767.3 642.8C763.7 646.5 760.3 650.4 757.3 654.6C754.3 658.8 751.6 663.2 749.2 667.8C746.9 672.4 744.9 677.2 743.3 682.1C741.7 686.9 740.5 692 739.7 697.1C738.9 702.2 738.7 709.9 738.5 712.5" />
<path d="M563 622H516Q508.3 622 508.3 630V712.5" stroke-width="1" />
<path d="M563 624H517Q510.5 624 510.5 630.5V712.5" stroke="#555" />
<text transform="translate(527 641.5) rotate(90) scale(0.775 1)" font-size="12.5" letter-spacing="1.98" stroke="#fff" stroke-width="0.19" >CABINET</text>
<path d="M962 622H1009Q1016.7 622 1016.7 630V712.5" stroke-width="1" />
<path d="M962 624H1008Q1014.5 624 1014.5 630.5V712.5" stroke="#555" />
<path d="M492 712.5L740 712.5" />
<path d="M492 715L737 715" />
<path d="M837 712.5L1034 712.5" />
<path d="M837 714.6L1034 714.6" />
<path d="M740 712.5L772 712.5" stroke="#777" />
<path d="M493 715L493 1015.8" />
<path d="M495.8 715L495.8 1015.8" />
<path d="M500 716V721.7H590L592.5 716" stroke="#555" />
<rect x="500.8" y="724.7" width="75.5" height="64.5" rx="0" />
<path d="M500.8 790.6L593.3 790.6" stroke-width="1.2" stroke="#777" />
<rect x="578" y="724.7" width="15.3" height="64.9" rx="0" />
<circle cx="516.2" cy="740.8" r="9.5" />
<circle cx="548.3" cy="745" r="12.5" />
<circle cx="548.3" cy="745" r="9.2" />
<circle cx="521.2" cy="765.3" r="10.3" />
<circle cx="561.2" cy="768" r="10.8" />
<path d="M512.8 760.8L529.6 760.8" />
<path d="M512.8 769.6L529.6 769.6" />
<path d="M496.7 758.3L658.3 758.3" />
<circle cx="585" cy="748.3" r="2.4" stroke-width="0.8" />
<path d="M582 748.3L588 748.3" stroke-width="1" />
<circle cx="585" cy="758" r="2.4" stroke-width="0.8" />
<path d="M582 758L588 758" stroke-width="1" />
<circle cx="585" cy="767.5" r="2.4" stroke-width="0.8" />
<path d="M582 767.5L588 767.5" stroke-width="1" />
<circle cx="585" cy="777.5" r="2.4" stroke-width="0.8" />
<path d="M582 777.5L588 777.5" stroke-width="1" />
<circle cx="585" cy="738.7" r="0.9" fill="#222"/>
<circle cx="581" cy="732.5" r="0.5" fill="#222"/>
<circle cx="589" cy="732.5" r="0.5" fill="#222"/>
<path d="M593.3 715L593.3 788.3" />
<path d="M593.3 785.8L657.5 785.8" stroke="#777" />
<path d="M593.3 788.3L657.5 788.3" stroke="#555" />
<text transform="translate(626.8 729.2) rotate(90) scale(0.624 1)" font-size="9" letter-spacing="1.52" stroke="#fff" stroke-width="0.07" >FORMICA</text>
<text transform="translate(603 732.5) rotate(90) scale(0.625 1)" font-size="9" letter-spacing="1.44" stroke="#fff" stroke-width="0.07" >TRASH DROP</text>
<circle cx="620.3" cy="767" r="6.7" />
<path d="M657.5 715V787Q657.5 793.3 664 793.3H730Q736.7 793.3 736.7 787V715" stroke-width="1.3" />
<path d="M659.5 715V786.5Q659.5 791.3 664.5 791.3H729.5Q734.7 791.3 734.7 786.5V715" stroke-width="0.6" stroke="#777" />
<path d="M658 738.3L736 738.3" stroke="#777" />
<path d="M658 747L736 747" stroke="#777" />
<path d="M668.3 793.3L696.7 828.3" />
<path d="M670 792.8L698 827.3" stroke="#555" />
<path d="M696.7 828.3C698.9 827.3 706.1 825.3 710 822.5C713.9 819.7 717.5 815.5 720 811.7C722.5 808 724 803 725 800C726 797 725.7 795 725.8 794" />
<text transform="translate(546.1 797.2) rotate(90) scale(0.620 1)" font-size="8.5" letter-spacing="1.55" stroke="#fff" stroke-width="0.05" >COOKTOP</text>
<text transform="translate(588.6 818) rotate(90) scale(0.730 1)" font-size="8.5" letter-spacing="1.30" stroke="#fff" stroke-width="0.05" >NON-SKID</text>
<text transform="translate(612 815) scale(0.757 1)" font-size="9" letter-spacing="2.14" stroke="#fff" stroke-width="0.07" >FGO</text><path d="M610 821.8L651.7 820.8" /><path d="M610 821.8L615 823.9" /><path d="M651.7 820.8L646.2 819.4" />
<path d="M496.7 917.5H631.7Q639.7 917.5 639.7 925.5V999.5Q639.7 1007.5 631.7 1007.5H496.7" stroke-width="1" />
<path d="M496.7 920H630.5Q637.3 920 637.3 926.5V998.5Q637.3 1005.2 630.5 1005.2H496.7" stroke="#555" />
<rect x="597.5" y="925.8" width="32.2" height="49.2" rx="4" />
<rect x="503" y="941.3" width="49.5" height="49.5" rx="5" />
<text transform="translate(622.4 930.8) rotate(90) scale(0.706 1)" font-size="8.5" letter-spacing="1.38" stroke="#fff" stroke-width="0.05" >CUTTING</text>
<text transform="translate(608.6 930.8) rotate(90) scale(0.635 1)" font-size="8.5" letter-spacing="1.66" stroke="#fff" stroke-width="0.05" >BOARD</text>
<text transform="translate(643.4 951.7) rotate(90) scale(0.689 1)" font-size="8" letter-spacing="1.59" stroke="#fff" stroke-width="0.03" >REFR</text>
<text transform="translate(514.4 948.3) rotate(90) scale(0.690 1)" font-size="8.5" letter-spacing="1.45" stroke="#fff" stroke-width="0.05" >FREEZER</text>
<path d="M548 964L549.5 965.5L548 967L546.5 965.5Z" stroke-width="0.7" />
<path d="M485 1015.8L496 1015.8" />
<text transform="translate(786.8 887) rotate(90) scale(0.767 1)" font-size="14.5" letter-spacing="2.58" stroke="#fff" stroke-width="0.26" >CARPET</text>
<path d="M652 1089Q654 1083 678 1082.5Q702 1083 704 1089Q712 1112 707 1130Q705 1136 698 1136H658Q651 1136 649 1130Q644 1112 652 1089Z" />
<rect x="655.5" y="1080.5" width="45" height="7.5" rx="3.5" />
<rect x="640.5" y="1100" width="5.5" height="28" rx="2.5" />
<rect x="710" y="1100" width="5.5" height="28" rx="2.5" />
<rect x="641.3" y="1096.5" width="3.9" height="5.5" rx="1.5" stroke-width="0.7" />
<rect x="710.8" y="1096.5" width="3.9" height="5.5" rx="1.5" stroke-width="0.7" />
<text transform="translate(674.9 1096) rotate(90) scale(0.833 1)" font-size="8.5" letter-spacing="1.73" stroke="#fff" stroke-width="0.05" >HELM</text>
<path d="M571 1096Q573 1091 591.5 1090.5Q610 1091 612 1096Q621 1118 616 1133Q614 1139 607 1139H576Q569 1139 567 1133Q562 1118 571 1096Z" />
<rect x="571.5" y="1088.5" width="40" height="7.5" rx="3.5" />
<rect x="632" y="1145" width="87.5" height="3.3" rx="1.6" stroke-width="1.1" stroke="#777" />
<path d="M466.3 1158.3V1126Q466.3 1117.5 475 1117.5H522Q530.2 1117.5 530.2 1126V1158.3" />
<text transform="translate(509.6 1123) rotate(90) scale(0.749 1)" font-size="8" letter-spacing="1.35" stroke="#fff" stroke-width="0.03" >FORMICA</text>
<path d="M461.5 1158.3L1063.8 1158.3" stroke-width="1" />
<path d="M461.5 1161L1063.8 1161" stroke-width="0.8" />
<path d="M461.5 1165.9L1063.8 1165.9" stroke-width="0.8" />
<path d="M461.5 1168.5L1063.8 1168.5" stroke-width="1" />
<path d="M762.8 1151.8A7 13 0 1 1 762.7 1151.8Z" stroke-width="0.8" />
<path d="M655 1159.5C662.5 1159.3 685.8 1158.7 700 1158.6C714.2 1158.5 725 1159 740 1159C755 1159 768.3 1158.5 790 1158.6C811.7 1158.7 856.7 1159.3 870 1159.5" stroke-width="0.6" stroke="#555" />
<path d="M640 1167C648.3 1167.5 675.8 1169.4 690 1170C704.2 1170.6 713 1170.4 725 1170.4C737 1170.5 749.5 1170.3 762 1170.3C774.5 1170.3 787 1170.5 800 1170.4C813 1170.4 826.7 1170.6 840 1170C853.3 1169.4 873.3 1167.5 880 1167" stroke-width="0.6" stroke="#555" />
<rect x="837.7" y="715.4" width="64.7" height="6.9" rx="1" />
<rect x="905.5" y="715.4" width="65" height="6.9" rx="1" />
<rect x="973.1" y="715.4" width="57.2" height="6.9" rx="1" />
<rect x="835.8" y="724.4" width="66.8" height="47.2" rx="6" />
<rect x="904.1" y="724.4" width="67.3" height="47.2" rx="6" />
<rect x="974.5" y="724.4" width="47.2" height="61.1" rx="6" />
<rect x="974.5" y="787" width="47.2" height="84.1" rx="6" stroke-width="1" />
<path d="M846.2 776.2H962.5Q970.5 776.2 970.5 784.2V864.5Q970.5 872.8 962.5 872.4L846.2 867.6Q838.2 867.2 838.2 859.2V784.2Q838.2 776.2 846.2 776.2Z" />
<rect x="1024.1" y="724.2" width="6.2" height="61.3" rx="1" />
<rect x="1024.1" y="787.7" width="6.2" height="83.3" rx="1" />
<path d="M1030.9 715L1030.9 871" stroke="#555" />
<path d="M1033.5 715L1033.5 1158" stroke-width="1.2" />
<path d="M845.5 738.7Q850 737.3 854.5 738.1Q859 738.9 863.5 737.5M855 732.1Q853.8 735.1 854.5 738.1Q855.2 741.1 854 744.1" stroke-width="0.7"/><circle cx="854.5" cy="738.1" r="1.4" stroke-width="0.7" />
<path d="M845.5 758.8Q850 757.4 854.5 758.2Q859 759 863.5 757.6M855 752.2Q853.8 755.2 854.5 758.2Q855.2 761.2 854 764.2" stroke-width="0.7"/><circle cx="854.5" cy="758.2" r="1.4" stroke-width="0.7" />
<path d="M869.9 738.7Q874.4 737.3 878.9 738.1Q883.4 738.9 887.9 737.5M879.4 732.1Q878.2 735.1 878.9 738.1Q879.6 741.1 878.4 744.1" stroke-width="0.7"/><circle cx="878.9" cy="738.1" r="1.4" stroke-width="0.7" />
<path d="M869.9 758.8Q874.4 757.4 878.9 758.2Q883.4 759 887.9 757.6M879.4 752.2Q878.2 755.2 878.9 758.2Q879.6 761.2 878.4 764.2" stroke-width="0.7"/><circle cx="878.9" cy="758.2" r="1.4" stroke-width="0.7" />
<path d="M913.8 738.7Q918.3 737.3 922.8 738.1Q927.3 738.9 931.8 737.5M923.3 732.1Q922.1 735.1 922.8 738.1Q923.5 741.1 922.3 744.1" stroke-width="0.7"/><circle cx="922.8" cy="738.1" r="1.4" stroke-width="0.7" />
<path d="M913.8 758.8Q918.3 757.4 922.8 758.2Q927.3 759 931.8 757.6M923.3 752.2Q922.1 755.2 922.8 758.2Q923.5 761.2 922.3 764.2" stroke-width="0.7"/><circle cx="922.8" cy="758.2" r="1.4" stroke-width="0.7" />
<path d="M938.2 738.7Q942.7 737.3 947.2 738.1Q951.7 738.9 956.2 737.5M947.7 732.1Q946.5 735.1 947.2 738.1Q947.9 741.1 946.7 744.1" stroke-width="0.7"/><circle cx="947.2" cy="738.1" r="1.4" stroke-width="0.7" />
<path d="M938.2 758.8Q942.7 757.4 947.2 758.2Q951.7 759 956.2 757.6M947.7 752.2Q946.5 755.2 947.2 758.2Q947.9 761.2 946.7 764.2" stroke-width="0.7"/><circle cx="947.2" cy="758.2" r="1.4" stroke-width="0.7" />
<path d="M982.2 743.4Q985.2 742 988.2 742.8Q991.2 743.6 994.2 742.2M988.7 734.3Q987.5 738.5 988.2 742.8Q988.9 747 987.7 751.3" stroke-width="0.7"/><circle cx="988.2" cy="742.8" r="1.4" stroke-width="0.7" />
<path d="M982.2 762.4Q985.2 761 988.2 761.8Q991.2 762.6 994.2 761.2M988.7 753.3Q987.5 757.5 988.2 761.8Q988.9 766 987.7 770.3" stroke-width="0.7"/><circle cx="988.2" cy="761.8" r="1.4" stroke-width="0.7" />
<path d="M982.2 806Q985.2 804.6 988.2 805.4Q991.2 806.2 994.2 804.8M988.7 796.9Q987.5 801.1 988.2 805.4Q988.9 809.6 987.7 813.9" stroke-width="0.7"/><circle cx="988.2" cy="805.4" r="1.4" stroke-width="0.7" />
<path d="M982.2 847.5Q985.2 846.1 988.2 846.9Q991.2 847.7 994.2 846.3M988.7 838.4Q987.5 842.6 988.2 846.9Q988.9 851.1 987.7 855.4" stroke-width="0.7"/><circle cx="988.2" cy="846.9" r="1.4" stroke-width="0.7" />
<path d="M982.2 988.6Q985.2 987.2 988.2 988Q991.2 988.8 994.2 987.4M988.7 979.5Q987.5 983.8 988.2 988Q988.9 992.2 987.7 996.5" stroke-width="0.7"/><circle cx="988.2" cy="988" r="1.4" stroke-width="0.7" />
<path d="M982.2 1007.6Q985.2 1006.2 988.2 1007Q991.2 1007.8 994.2 1006.4M988.7 998.5Q987.5 1002.8 988.2 1007Q988.9 1011.2 987.7 1015.5" stroke-width="0.7"/><circle cx="988.2" cy="1007" r="1.4" stroke-width="0.7" />
<path d="M982.2 1046.6Q985.2 1045.2 988.2 1046Q991.2 1046.8 994.2 1045.4M988.7 1037.5Q987.5 1041.8 988.2 1046Q988.9 1050.2 987.7 1054.5" stroke-width="0.7"/><circle cx="988.2" cy="1046" r="1.4" stroke-width="0.7" />
<path d="M982.2 1067.6Q985.2 1066.2 988.2 1067Q991.2 1067.8 994.2 1066.4M988.7 1058.5Q987.5 1062.8 988.2 1067Q988.9 1071.2 987.7 1075.5" stroke-width="0.7"/><circle cx="988.2" cy="1067" r="1.4" stroke-width="0.7" />
<path d="M982.2 1110.6Q985.2 1109.2 988.2 1110Q991.2 1110.8 994.2 1109.4M988.7 1101.5Q987.5 1105.8 988.2 1110Q988.9 1114.2 987.7 1118.5" stroke-width="0.7"/><circle cx="988.2" cy="1110" r="1.4" stroke-width="0.7" />
<path d="M982.2 1129.6Q985.2 1128.2 988.2 1129Q991.2 1129.8 994.2 1128.4M988.7 1120.5Q987.5 1124.8 988.2 1129Q988.9 1133.2 987.7 1137.5" stroke-width="0.7"/><circle cx="988.2" cy="1129" r="1.4" stroke-width="0.7" />
<path d="M1002.3 743.4Q1005.3 742 1008.3 742.8Q1011.3 743.6 1014.3 742.2M1008.8 734.3Q1007.6 738.5 1008.3 742.8Q1009 747 1007.8 751.3" stroke-width="0.7"/><circle cx="1008.3" cy="742.8" r="1.4" stroke-width="0.7" />
<path d="M1002.3 762.4Q1005.3 761 1008.3 761.8Q1011.3 762.6 1014.3 761.2M1008.8 753.3Q1007.6 757.5 1008.3 761.8Q1009 766 1007.8 770.3" stroke-width="0.7"/><circle cx="1008.3" cy="761.8" r="1.4" stroke-width="0.7" />
<path d="M1002.3 806Q1005.3 804.6 1008.3 805.4Q1011.3 806.2 1014.3 804.8M1008.8 796.9Q1007.6 801.1 1008.3 805.4Q1009 809.6 1007.8 813.9" stroke-width="0.7"/><circle cx="1008.3" cy="805.4" r="1.4" stroke-width="0.7" />
<path d="M1002.3 847.5Q1005.3 846.1 1008.3 846.9Q1011.3 847.7 1014.3 846.3M1008.8 838.4Q1007.6 842.6 1008.3 846.9Q1009 851.1 1007.8 855.4" stroke-width="0.7"/><circle cx="1008.3" cy="846.9" r="1.4" stroke-width="0.7" />
<path d="M1002.3 988.6Q1005.3 987.2 1008.3 988Q1011.3 988.8 1014.3 987.4M1008.8 979.5Q1007.6 983.8 1008.3 988Q1009 992.2 1007.8 996.5" stroke-width="0.7"/><circle cx="1008.3" cy="988" r="1.4" stroke-width="0.7" />
<path d="M1002.3 1007.6Q1005.3 1006.2 1008.3 1007Q1011.3 1007.8 1014.3 1006.4M1008.8 998.5Q1007.6 1002.8 1008.3 1007Q1009 1011.2 1007.8 1015.5" stroke-width="0.7"/><circle cx="1008.3" cy="1007" r="1.4" stroke-width="0.7" />
<path d="M1002.3 1046.6Q1005.3 1045.2 1008.3 1046Q1011.3 1046.8 1014.3 1045.4M1008.8 1037.5Q1007.6 1041.8 1008.3 1046Q1009 1050.2 1007.8 1054.5" stroke-width="0.7"/><circle cx="1008.3" cy="1046" r="1.4" stroke-width="0.7" />
<path d="M1002.3 1067.6Q1005.3 1066.2 1008.3 1067Q1011.3 1067.8 1014.3 1066.4M1008.8 1058.5Q1007.6 1062.8 1008.3 1067Q1009 1071.2 1007.8 1075.5" stroke-width="0.7"/><circle cx="1008.3" cy="1067" r="1.4" stroke-width="0.7" />
<path d="M1002.3 1110.6Q1005.3 1109.2 1008.3 1110Q1011.3 1110.8 1014.3 1109.4M1008.8 1101.5Q1007.6 1105.8 1008.3 1110Q1009 1114.2 1007.8 1118.5" stroke-width="0.7"/><circle cx="1008.3" cy="1110" r="1.4" stroke-width="0.7" />
<path d="M1002.3 1129.6Q1005.3 1128.2 1008.3 1129Q1011.3 1129.8 1014.3 1128.4M1008.8 1120.5Q1007.6 1124.8 1008.3 1129Q1009 1133.2 1007.8 1137.5" stroke-width="0.7"/><circle cx="1008.3" cy="1129" r="1.4" stroke-width="0.7" />
<text transform="translate(932.1 735.2) rotate(90) scale(0.769 1)" font-size="10" letter-spacing="1.86" stroke="#fff" stroke-width="0.1" >SEAT</text>
<text transform="translate(886.1 799.2) rotate(90) scale(0.739 1)" font-size="16" letter-spacing="2.72" stroke="#fff" stroke-width="0.31" >TABLE</text>
<rect x="974.5" y="963.3" width="47.2" height="61.7" rx="6" />
<rect x="974.5" y="1027.5" width="47.2" height="58.3" rx="6" />
<rect x="974.5" y="1088" width="47.2" height="60" rx="6" />
<rect x="1024.5" y="965.5" width="6" height="59.5" rx="1" />
<rect x="1024.5" y="1028" width="6" height="57.5" rx="1" />
<rect x="1024.5" y="1088.5" width="6" height="58.5" rx="1" />
<path d="M1030.9 963.3L1030.9 1158" stroke="#555" />
<rect x="753" y="1101" width="65" height="46.3" rx="6" />
<rect x="819.5" y="1101" width="83.5" height="46.3" rx="6" />
<rect x="904.5" y="1101" width="67.5" height="46.3" rx="6" />
<rect x="754.5" y="1149.8" width="63.5" height="6.4" rx="1" />
<rect x="821" y="1149.8" width="82" height="6.4" rx="1" />
<rect x="907" y="1149.8" width="64" height="6.4" rx="1" />
<rect x="974" y="1149.8" width="56" height="6.4" rx="1" />
<path d="M764 1003.5L957 970.8Q970 968.6 970 981V1088Q970 1096 962 1096H764Q756 1096 756 1088V1013Q756 1005 764 1003.5Z" />
<text transform="translate(876.2 1027.5) rotate(90) scale(0.754 1)" font-size="16" letter-spacing="2.72" stroke="#fff" stroke-width="0.31" >TABLE</text>
<path d="M763 1114.6Q767.5 1113.2 772 1114Q776.5 1114.8 781 1113.4M772.5 1108Q771.3 1111 772 1114Q772.7 1117 771.5 1120" stroke-width="0.7"/><circle cx="772" cy="1114" r="1.4" stroke-width="0.7" />
<path d="M763 1133.6Q767.5 1132.2 772 1133Q776.5 1133.8 781 1132.4M772.5 1127Q771.3 1130 772 1133Q772.7 1136 771.5 1139" stroke-width="0.7"/><circle cx="772" cy="1133" r="1.4" stroke-width="0.7" />
<path d="M785 1114.6Q789.5 1113.2 794 1114Q798.5 1114.8 803 1113.4M794.5 1108Q793.3 1111 794 1114Q794.7 1117 793.5 1120" stroke-width="0.7"/><circle cx="794" cy="1114" r="1.4" stroke-width="0.7" />
<path d="M785 1133.6Q789.5 1132.2 794 1133Q798.5 1133.8 803 1132.4M794.5 1127Q793.3 1130 794 1133Q794.7 1136 793.5 1139" stroke-width="0.7"/><circle cx="794" cy="1133" r="1.4" stroke-width="0.7" />
<path d="M829 1114.6Q833.5 1113.2 838 1114Q842.5 1114.8 847 1113.4M838.5 1108Q837.3 1111 838 1114Q838.7 1117 837.5 1120" stroke-width="0.7"/><circle cx="838" cy="1114" r="1.4" stroke-width="0.7" />
<path d="M829 1133.6Q833.5 1132.2 838 1133Q842.5 1133.8 847 1132.4M838.5 1127Q837.3 1130 838 1133Q838.7 1136 837.5 1139" stroke-width="0.7"/><circle cx="838" cy="1133" r="1.4" stroke-width="0.7" />
<path d="M870 1114.6Q874.5 1113.2 879 1114Q883.5 1114.8 888 1113.4M879.5 1108Q878.3 1111 879 1114Q879.7 1117 878.5 1120" stroke-width="0.7"/><circle cx="879" cy="1114" r="1.4" stroke-width="0.7" />
<path d="M870 1133.6Q874.5 1132.2 879 1133Q883.5 1133.8 888 1132.4M879.5 1127Q878.3 1130 879 1133Q879.7 1136 878.5 1139" stroke-width="0.7"/><circle cx="879" cy="1133" r="1.4" stroke-width="0.7" />
<path d="M913 1114.6Q917.5 1113.2 922 1114Q926.5 1114.8 931 1113.4M922.5 1108Q921.3 1111 922 1114Q922.7 1117 921.5 1120" stroke-width="0.7"/><circle cx="922" cy="1114" r="1.4" stroke-width="0.7" />
<path d="M913 1133.6Q917.5 1132.2 922 1133Q926.5 1133.8 931 1132.4M922.5 1127Q921.3 1130 922 1133Q922.7 1136 921.5 1139" stroke-width="0.7"/><circle cx="922" cy="1133" r="1.4" stroke-width="0.7" />
<path d="M939 1114.6Q943.5 1113.2 948 1114Q952.5 1114.8 957 1113.4M948.5 1108Q947.3 1111 948 1114Q948.7 1117 947.5 1120" stroke-width="0.7"/><circle cx="948" cy="1114" r="1.4" stroke-width="0.7" />
<path d="M939 1133.6Q943.5 1132.2 948 1133Q952.5 1133.8 957 1132.4M948.5 1127Q947.3 1130 948 1133Q948.7 1136 947.5 1139" stroke-width="0.7"/><circle cx="948" cy="1133" r="1.4" stroke-width="0.7" />
<path d="M641.5 1168.5L641.5 1448.5" />
<path d="M643.5 1168.5L643.5 1448.5" stroke="#555" />
<path d="M708.8 1168.5L708.8 1472.2" stroke-width="1.8" />
<path d="M816.9 1168.5L816.9 1472.2" stroke-width="1.8" />
<path d="M763.2 1168.5L763.2 1472.2" stroke-width="1.2" />
<path d="M882.7 1168.5L882.7 1520" />
<path d="M643.5 1312.1L708.8 1312.1" stroke-width="1.6" />
<path d="M816.9 1312.1L882.7 1312.1" stroke-width="1.6" />
<path d="M708.8 1275.9L816.9 1275.9" stroke-width="1.1" />
<path d="M708.8 1448.3L816.9 1448.3" stroke-width="1.6" />
<circle cx="708.8" cy="1275.9" r="1.3" fill="#222"/>
<circle cx="708.8" cy="1448.3" r="1.3" fill="#222"/>
<circle cx="763.2" cy="1275.9" r="1.3" fill="#222"/>
<circle cx="763.2" cy="1448.3" r="1.3" fill="#222"/>
<circle cx="816.9" cy="1275.9" r="1.3" fill="#222"/>
<circle cx="816.9" cy="1448.3" r="1.3" fill="#222"/>
<path d="M487.7 1209L1037.5 1209" stroke="#666" stroke-dasharray="48.6 33.9"/>
<path d="M487.7 1277L1037.5 1277" stroke="#666" stroke-dasharray="48.6 33.9"/>
<path d="M487.7 1345.3L1037.5 1345.3" stroke="#666" stroke-dasharray="48.6 33.9"/>
<path d="M487.7 1409.2L1037.5 1409.2" stroke="#666" stroke-dasharray="48.6 33.9"/>
<rect x="714.2" y="1205.8" width="40.4" height="45.3" rx="6" />
<rect x="770.5" y="1205.8" width="39.9" height="45.3" rx="6" />
<circle cx="734.3" cy="1214.6" r="1.7" />
<circle cx="790.6" cy="1214.8" r="1.7" />
<text transform="translate(749.2 1197.8) rotate(90) scale(0.902 1)" font-size="6.8" letter-spacing="1.00" stroke="#151515" stroke-width="0.18" >QUAR  LKRS</text>
<text transform="translate(669.7 1175.6) rotate(90) scale(0.823 1)" font-size="10" letter-spacing="1.13" stroke="#fff" stroke-width="0.1" >4 1/4&quot;</text>
<path d="M668.3 1159L668.3 1209" stroke-width="1.1" />
<circle cx="668.3" cy="1209" r="1.2" fill="#222"/>
<text transform="translate(687.5 1230.6) rotate(90) scale(0.637 1)" font-size="11.5" letter-spacing="3.65" stroke="#fff" stroke-width="0.15" >EQ</text>
<text transform="translate(687.5 1314.3) rotate(90) scale(0.661 1)" font-size="11.5" letter-spacing="3.65" stroke="#fff" stroke-width="0.15" >EQ</text>
<text transform="translate(687.5 1371.9) rotate(90) scale(0.637 1)" font-size="11.5" letter-spacing="3.65" stroke="#fff" stroke-width="0.15" >EQ</text>
<text transform="translate(687.5 1428) rotate(90) scale(0.637 1)" font-size="11.5" letter-spacing="3.65" stroke="#fff" stroke-width="0.15" >EQ</text>
<text transform="translate(667 1246.8) rotate(90) scale(0.670 1)" font-size="11.5" letter-spacing="2.51" stroke="#fff" stroke-width="0.15" >STOW</text>
<text transform="translate(667 1357.4) rotate(90) scale(0.655 1)" font-size="11.5" letter-spacing="2.51" stroke="#fff" stroke-width="0.15" >STOW</text>
<text transform="translate(834.3 1237) rotate(90) scale(0.670 1)" font-size="11.5" letter-spacing="2.51" stroke="#fff" stroke-width="0.15" >STOW</text>
<text transform="translate(834.3 1348) rotate(90) scale(0.674 1)" font-size="11.5" letter-spacing="2.51" stroke="#fff" stroke-width="0.15" >STOW</text>
<text transform="translate(548.8 1270.5) scale(0.744 1)" font-size="9" letter-spacing="2.14" stroke="#fff" stroke-width="0.07" >FGO</text>
<text transform="translate(596.2 1389.1) scale(0.744 1)" font-size="9" letter-spacing="2.14" stroke="#fff" stroke-width="0.07" >FGO</text><path d="M594.1 1396.1L635.5 1395.1" /><path d="M594.1 1396.1L599.1 1398.2" /><path d="M635.5 1395.1L630 1393.7" />
<text transform="translate(574.8 1331.5) rotate(90) scale(0.833 1)" font-size="8" letter-spacing="1.48" stroke="#fff" stroke-width="0.03" >HATCH</text>
<text transform="translate(558.2 1330.3) rotate(90) scale(0.776 1)" font-size="8" letter-spacing="1.51" stroke="#fff" stroke-width="0.03" >ABOVE</text>
<rect x="546" y="1320.1" width="45.3" height="46" rx="2" class="dot"/>
<rect x="935.5" y="1320.1" width="46.4" height="46" rx="2" class="dot"/>
<text transform="translate(737.8 1308.2) rotate(90) scale(0.746 1)" font-size="12.5" letter-spacing="1.89" stroke="#fff" stroke-width="0.19" >CHAIN STORAGE</text>
<text transform="translate(723.8 1308.2) rotate(90) scale(0.815 1)" font-size="12.5" letter-spacing="1.73" stroke="#fff" stroke-width="0.19" >GLASS INSIDE</text>
<text transform="translate(787.5 1298.5) rotate(90) scale(0.742 1)" font-size="12.5" letter-spacing="1.85" stroke="#fff" stroke-width="0.19" >ANCHOR WINDLASS &amp;</text>
<text transform="translate(775.3 1308.2) rotate(90) scale(0.815 1)" font-size="12.5" letter-spacing="1.73" stroke="#fff" stroke-width="0.19" >GLASS INSIDE</text>
<text transform="translate(873.4 1231.7) scale(0.858 1)" font-size="6.5" letter-spacing="0.91" stroke="#151515" stroke-width="0.18" >COUNTERTOP  42&quot;</text>
<text transform="translate(873.4 1238.6) scale(0.835 1)" font-size="6.5" letter-spacing="1.23" stroke="#151515" stroke-width="0.18" >ABOVE</text>
<path d="M567.6 1169L567.6 1290" class="dot"/>
<path d="M585.5 1169L585.5 1290" class="dot"/>
<path d="M940.9 1169L940.9 1290" class="dot"/>
<path d="M949.5 1169L949.5 1290" class="dot"/>
<path d="M958.8 1169L958.8 1290" class="dot"/>
<path d="M462 1111.5L753 1111.5" class="dot"/>
<path d="M462 1095C465 1096.3 472 1100.8 480 1103C488 1105.2 496.7 1106.7 510 1108C523.3 1109.3 551.7 1110.5 560 1111" class="dot"/>
<path d="M567.6 1113L567.6 1158" class="dot"/>
<path d="M585.5 1113L585.5 1158" class="dot"/>
<path d="M455 1250C459.2 1253 469.2 1263.2 480 1268C490.8 1272.8 500 1276.5 520 1279C540 1281.5 559.7 1282.2 600 1283C640.3 1283.8 707.8 1284 762 1284C816.2 1284 884.5 1283.8 925 1283C965.5 1282.2 985 1281.5 1005 1279C1025 1276.5 1034.2 1272.8 1045 1268C1055.8 1263.2 1065.8 1253 1070 1250" stroke-width="1" stroke="#777" stroke-dasharray="1 4.5"/>
<path d="M455 1257.5C459.2 1260.2 469.2 1269.6 480 1274C490.8 1278.4 500 1281.7 520 1284C540 1286.3 559.7 1287.2 600 1288C640.3 1288.8 707.8 1289 762 1289C816.2 1289 884.5 1288.8 925 1288C965.5 1287.2 985 1286.3 1005 1284C1025 1281.7 1034.2 1278.4 1045 1274C1055.8 1269.6 1065.8 1260.2 1070 1257.5" stroke-width="1" stroke="#999" stroke-dasharray="1 4.5"/>
<path d="M455 1265C459.2 1267.5 469.2 1276 480 1280C490.8 1284 500 1286.8 520 1289C540 1291.2 559.7 1292.2 600 1293C640.3 1293.8 707.8 1294 762 1294C816.2 1294 884.5 1293.8 925 1293C965.5 1292.2 985 1291.2 1005 1289C1025 1286.8 1034.2 1284 1045 1280C1055.8 1276 1065.8 1267.5 1070 1265" stroke-width="1" stroke="#aaa" stroke-dasharray="1 4.5"/>
<path d="M430 1448.3L1095 1448.3" />
<path d="M466 1450.3L1059 1450.3" stroke="#555" />
<path d="M464 1471.4L1061 1471.4" />
<path d="M464 1473.9L1061 1473.9" />
<path d="M564.3 1450.3L564.3 1471.4" />
<path d="M566.5 1450.3L566.5 1471.4" />
<path d="M959.2 1450.3L959.2 1520" />
<path d="M961 1450.3L961 1471.4" stroke="#777" />
<rect x="721" y="1476" width="83" height="267" rx="0" />
<text transform="translate(761.6 1538) rotate(90) scale(0.773 1)" font-size="15" letter-spacing="2.31" stroke="#fff" stroke-width="0.28" >COMPOSITE WALKWAY</text>
<path d="M763.2 1516L960 1516" stroke-width="1.1" />
<path d="M816.9 1472L816.9 1520" />
<circle cx="763.2" cy="1516" r="1.2" fill="#222"/>
<circle cx="816.9" cy="1516" r="1.2" fill="#222"/>
<circle cx="882.7" cy="1516" r="1.2" fill="#222"/>
<circle cx="959.2" cy="1516" r="1.2" fill="#222"/>
<text transform="translate(779 1512.6) scale(0.892 1)" font-size="9.5" letter-spacing="1.01" stroke="#fff" stroke-width="0.08" >1' 5&quot;</text>
<text transform="translate(829 1512.6) scale(0.958 1)" font-size="9.5" letter-spacing="0.94" stroke="#fff" stroke-width="0.08" >1' 9 3/8&quot;</text>
<text transform="translate(899 1512.6) scale(1.000 1)" font-size="9.5" letter-spacing="1.22" stroke="#fff" stroke-width="0.08" >2' 0 7/8&quot;</text>
<path d="M762.5 313L762.5 1760" stroke-width="0.8" stroke="#555" stroke-dasharray="52 15 1.5 15"/>
<path d="M433 1755.5L714 1755.5" />
<path d="M810 1755.5L1092 1755.5" />
<path d="M433 1775.4L1092 1775.4" stroke="#555" />
<ellipse cx="433" cy="1765.2" rx="7.6" ry="10"/>
<path d="M428 1765.2L435 1765.2" stroke-width="1.2" stroke="#444" />
<path d="M423.3 1757.5L418 1773" stroke-width="2.4" stroke="#555" />
<rect x="419.5" y="1763.5" width="8" height="3.8" rx="0.3" stroke-width="0.8" fill="#666"/>
<ellipse cx="1092.2" cy="1765.2" rx="7.6" ry="10"/>
<path d="M1097.2 1765.2L1090.2 1765.2" stroke-width="1.2" stroke="#444" />
<path d="M1101.9 1757.5L1107.2 1773" stroke-width="2.4" stroke="#555" />
<rect x="1097.7" y="1763.5" width="8" height="3.8" rx="0.3" stroke-width="0.8" fill="#666"/>
<rect x="714" y="1755" width="96" height="20.5" rx="0" />
<rect x="737.5" y="1761.5" width="7.5" height="9.5" rx="0" />
<rect x="782.5" y="1761.5" width="7.5" height="9.5" rx="0" />
<path d="M727 1743L729.5 1751M734 1743L731.5 1751" stroke-width="1.2" />
<rect x="723.5" y="1751" width="14" height="5.5" rx="1" stroke-width="1.3" />
<path d="M725.5 1743L735.5 1743" stroke-width="1.2" />
<path d="M794 1743L796.5 1751M801 1743L798.5 1751" stroke-width="1.2" />
<rect x="790.5" y="1751" width="14" height="5.5" rx="1" stroke-width="1.3" />
<path d="M792.5 1743L802.5 1743" stroke-width="1.2" />
<path d="M212.3 473L212.3 1764" stroke-width="1.4" stroke="#111" />
<path d="M208 473L290 473" stroke="#777" />
<circle cx="212.3" cy="473" r="1.5" fill="#111" stroke="none"/>
<path d="M208 622L290 622" stroke="#777" />
<circle cx="212.3" cy="622" r="1.5" fill="#111" stroke="none"/>
<path d="M208 712L290 712" stroke="#777" />
<circle cx="212.3" cy="712" r="1.5" fill="#111" stroke="none"/>
<path d="M208 752.5L290 752.5" stroke="#777" />
<circle cx="212.3" cy="752.5" r="1.5" fill="#111" stroke="none"/>
<path d="M208 896L290 896" stroke="#777" />
<circle cx="212.3" cy="896" r="1.5" fill="#111" stroke="none"/>
<path d="M208 1009L290 1009" stroke="#777" />
<circle cx="212.3" cy="1009" r="1.5" fill="#111" stroke="none"/>
<path d="M208 1158L290 1158" stroke="#777" />
<circle cx="212.3" cy="1158" r="1.5" fill="#111" stroke="none"/>
<path d="M208 1279L290 1279" stroke="#777" />
<circle cx="212.3" cy="1279" r="1.5" fill="#111" stroke="none"/>
<path d="M208 1448L320 1448" stroke="#777" />
<circle cx="212.3" cy="1448" r="1.5" fill="#111" stroke="none"/>
<path d="M208 1603L335 1603" stroke="#777" />
<circle cx="212.3" cy="1603" r="1.5" fill="#111" stroke="none"/>
<path d="M208 1764L365 1764" stroke="#777" />
<circle cx="212.3" cy="1764" r="1.5" fill="#111" stroke="none"/>
<text transform="translate(232.1 450) rotate(90)" font-size="16.5" stroke="#fff" stroke-width="0.33" letter-spacing="1">12</text>
<text transform="translate(232.1 522) rotate(90)" font-size="16.5" stroke="#fff" stroke-width="0.33" letter-spacing="1">11</text>
<text transform="translate(232.1 602) rotate(90)" font-size="16.5" stroke="#fff" stroke-width="0.33" letter-spacing="1">10</text>
<text transform="translate(232.1 698) rotate(90)" font-size="16.5" stroke="#fff" stroke-width="0.33" letter-spacing="1">9</text>
<text transform="translate(232.1 743) rotate(90)" font-size="16.5" stroke="#fff" stroke-width="0.33" letter-spacing="1">8</text>
<text transform="translate(232.1 887) rotate(90)" font-size="16.5" stroke="#fff" stroke-width="0.33" letter-spacing="1">7</text>
<text transform="translate(232.1 999) rotate(90)" font-size="16.5" stroke="#fff" stroke-width="0.33" letter-spacing="1">6</text>
<text transform="translate(232.1 1148) rotate(90)" font-size="16.5" stroke="#fff" stroke-width="0.33" letter-spacing="1">5</text>
<text transform="translate(232.1 1269) rotate(90)" font-size="16.5" stroke="#fff" stroke-width="0.33" letter-spacing="1">4</text>
<text transform="translate(232.1 1439) rotate(90)" font-size="16.5" stroke="#fff" stroke-width="0.33" letter-spacing="1">3</text>
<text transform="translate(232.1 1593) rotate(90)" font-size="16.5" stroke="#fff" stroke-width="0.33" letter-spacing="1">2</text>
<text transform="translate(232.1 1755) rotate(90)" font-size="16.5" stroke="#fff" stroke-width="0.33" letter-spacing="1">1</text>
<text transform="translate(248.6 176.8) rotate(90) scale(0.737 1)" font-size="10.5" letter-spacing="2.56" stroke="#151515" stroke-width="0.25">22</text>
<path d="M268 182L282.3 182" stroke-width="1.1" stroke="#666" />
<text transform="translate(248.6 253.1) rotate(90) scale(0.555 1)" font-size="10.5" letter-spacing="2.56" stroke="#151515" stroke-width="0.25">21</text>
<path d="M268 257L282.3 257" stroke-width="1.1" stroke="#666" />
<text transform="translate(248.6 326.8) rotate(90) scale(0.737 1)" font-size="10.5" letter-spacing="2.56" stroke="#151515" stroke-width="0.25">20</text>
<path d="M268 332L282.3 332" stroke-width="1.1" stroke="#666" />
<text transform="translate(248.6 402.1) rotate(90) scale(0.555 1)" font-size="10.5" letter-spacing="2.56" stroke="#151515" stroke-width="0.25">19</text>
<path d="M268 406L282.3 406" stroke-width="1.1" stroke="#666" />
<text transform="translate(248.6 477.1) rotate(90) scale(0.555 1)" font-size="10.5" letter-spacing="2.56" stroke="#151515" stroke-width="0.25">18</text>
<path d="M268 481L282.3 481" stroke-width="1.1" stroke="#666" />
<text transform="translate(248.6 552) rotate(90) scale(0.555 1)" font-size="10.5" letter-spacing="2.56" stroke="#151515" stroke-width="0.25">17</text>
<path d="M268 556L282.3 556" stroke-width="1.1" stroke="#666" />
<text transform="translate(248.6 626) rotate(90) scale(0.555 1)" font-size="10.5" letter-spacing="2.56" stroke="#151515" stroke-width="0.25">16</text>
<path d="M268 630L282.3 630" stroke-width="1.1" stroke="#666" />
<text transform="translate(248.6 702) rotate(90) scale(0.555 1)" font-size="10.5" letter-spacing="2.56" stroke="#151515" stroke-width="0.25">15</text>
<path d="M268 706L282.3 706" stroke-width="1.1" stroke="#666" />
<text transform="translate(248.6 776) rotate(90) scale(0.555 1)" font-size="10.5" letter-spacing="2.56" stroke="#151515" stroke-width="0.25">14</text>
<path d="M268 780L282.3 780" stroke-width="1.1" stroke="#666" />
<text transform="translate(248.6 851) rotate(90) scale(0.555 1)" font-size="10.5" letter-spacing="2.56" stroke="#151515" stroke-width="0.25">13</text>
<path d="M268 855L282.3 855" stroke-width="1.1" stroke="#666" />
<text transform="translate(248.6 925) rotate(90) scale(0.555 1)" font-size="10.5" letter-spacing="2.56" stroke="#151515" stroke-width="0.25">12</text>
<path d="M268 929L282.3 929" stroke-width="1.1" stroke="#666" />
<text transform="translate(248.6 1001.4) rotate(90) scale(0.500 1)" font-size="10.5" letter-spacing="-0.30" stroke="#151515" stroke-width="0.25">11</text>
<path d="M268 1004L282.3 1004" stroke-width="1.1" stroke="#666" />
<text transform="translate(248.6 1075) rotate(90) scale(0.555 1)" font-size="10.5" letter-spacing="2.56" stroke="#151515" stroke-width="0.25">10</text>
<path d="M268 1079L282.3 1079" stroke-width="1.1" stroke="#666" />
<text transform="translate(248.6 1150.4) rotate(90)" font-size="10" stroke="none" >9</text>
<path d="M268 1153L282.3 1153" stroke-width="1.1" stroke="#666" />
<text transform="translate(248.6 1225.4) rotate(90)" font-size="10" stroke="none" >8</text>
<path d="M268 1228L282.3 1228" stroke-width="1.1" stroke="#666" />
<text transform="translate(248.6 1300.4) rotate(90)" font-size="10" stroke="none" >7</text>
<path d="M268 1303L282.3 1303" stroke-width="1.1" stroke="#666" />
<text transform="translate(248.6 1374.4) rotate(90)" font-size="10" stroke="none" >6</text>
<path d="M268 1377L282.3 1377" stroke-width="1.1" stroke="#666" />
<text transform="translate(248.6 1449.4) rotate(90)" font-size="10" stroke="none" >5</text>
<path d="M268 1452L282.3 1452" stroke-width="1.1" stroke="#666" />
<text transform="translate(248.6 1524.4) rotate(90)" font-size="10" stroke="none" >4</text>
<path d="M268 1527L282.3 1527" stroke-width="1.1" stroke="#666" />
<text transform="translate(248.6 1599.4) rotate(90)" font-size="10" stroke="none" >3</text>
<path d="M268 1602L282.3 1602" stroke-width="1.1" stroke="#666" />
<text transform="translate(248.6 1674.4) rotate(90)" font-size="10" stroke="none" >2</text>
<path d="M268 1677L282.3 1677" stroke-width="1.1" stroke="#666" />
<text transform="translate(248.6 1749.4) rotate(90)" font-size="10" stroke="none" >1</text>
<path d="M268 1752L282.3 1752" stroke-width="1.1" stroke="#666" />
<text transform="translate(213.9 533) rotate(90) scale(1.000 1)" font-size="10" letter-spacing="1.91" stroke="#fff" stroke-width="0.1" >4' 0&quot;</text>
<text transform="translate(213.9 646) rotate(90) scale(0.978 1)" font-size="10" letter-spacing="0.99" stroke="#fff" stroke-width="0.1" >2' 5 1/8&quot;</text>
<text transform="translate(213.9 724) rotate(90) scale(0.720 1)" font-size="10" letter-spacing="1.06" stroke="#fff" stroke-width="0.1" >1' 1&quot;</text>
<text transform="translate(213.9 812) rotate(90) scale(0.823 1)" font-size="10" letter-spacing="1.09" stroke="#fff" stroke-width="0.1" >3' 10&quot;</text>
<text transform="translate(213.9 932) rotate(90) scale(0.978 1)" font-size="10" letter-spacing="0.99" stroke="#fff" stroke-width="0.1" >3' 0 3/8&quot;</text>
<text transform="translate(213.9 1062) rotate(90) scale(0.963 1)" font-size="10" letter-spacing="1.00" stroke="#fff" stroke-width="0.1" >3' 11 7/8&quot;</text>
<text transform="translate(213.9 1197) rotate(90) scale(0.978 1)" font-size="10" letter-spacing="0.99" stroke="#fff" stroke-width="0.1" >3' 2 7/8&quot;</text>
<text transform="translate(213.9 1342) rotate(90) scale(0.978 1)" font-size="10" letter-spacing="0.99" stroke="#fff" stroke-width="0.1" >4' 6 3/8&quot;</text>
<text transform="translate(213.9 1505) rotate(90) scale(0.978 1)" font-size="10" letter-spacing="0.99" stroke="#fff" stroke-width="0.1" >4' 1 5/8&quot;</text>
<text transform="translate(213.9 1660) rotate(90) scale(1.000 1)" font-size="10" letter-spacing="1.12" stroke="#fff" stroke-width="0.1" >4' 3 3/4&quot;</text>
<text transform="translate(287.7 626) rotate(90)" font-size="11" stroke="#fff" stroke-width="0.14" >C</text>
<text transform="translate(283 718) rotate(90)" font-size="11" stroke="#fff" stroke-width="0.14" >C</text>
<text transform="translate(283 767) rotate(90)" font-size="11" stroke="#fff" stroke-width="0.14" >C</text>
<text transform="translate(283 903) rotate(90)" font-size="11" stroke="#fff" stroke-width="0.14" >C</text>
<text transform="translate(284.3 1018) rotate(90)" font-size="11" stroke="#fff" stroke-width="0.14" >C</text>
<text transform="translate(298 1288.5) rotate(90)" font-size="11" stroke="#fff" stroke-width="0.14" >C</text>
<text transform="translate(312 1453) rotate(90)" font-size="11" stroke="#fff" stroke-width="0.14" >C</text>
<text transform="translate(322 1601) rotate(90)" font-size="11" stroke="#fff" stroke-width="0.14" >C</text>
<path d="M280.3 1752L280.3 1768" stroke-width="1" />
<path d="M277 1755L284 1755" />
<path d="M277 1764L284 1764" />
<text transform="translate(282.8 1755) rotate(90) scale(0.800 1)" font-size="9" letter-spacing="1.80" stroke="#fff" stroke-width="0.07" >4&quot;</text>
<text transform="translate(167.5 757) rotate(90) scale(0.864 1)" font-size="21.5" letter-spacing="3.23" stroke="#fff" stroke-width="0.5" >CONSTRUCTION PLAN</text>
<text transform="translate(156.3 759) rotate(90) scale(1.000 1)" font-size="11.5" letter-spacing="1.56" stroke="#fff" stroke-width="0.15" >SCALE 3/4&quot;=1'-0&quot;</text>
<path d="M188 681L160 681L160 718" stroke="#555" /><path d="M149 718L172 718L160.5 737L149 718" stroke="#333" /><text transform="translate(163.2 700) rotate(90)" font-size="19" stroke="#fff" stroke-width="0.42" >D</text>
<path d="M183 1084L156 1084L156 1122" stroke="#555" /><path d="M144 1122L167 1122L155.5 1141L144 1122" stroke="#333" /><text transform="translate(159.2 1098) rotate(90)" font-size="19" stroke="#fff" stroke-width="0.42" >C</text>
<path d="M193 1389L164.3 1389L164.3 1352" stroke="#555" /><path d="M153 1352L176 1352L164.5 1333L153 1352" stroke="#333" /><text transform="translate(168.2 1365) rotate(90)" font-size="19" stroke="#fff" stroke-width="0.42" >B</text>
<path d="M191 1552L162 1552L162 1516" stroke="#555" /><path d="M150 1516L173 1516L161.5 1496L150 1516" stroke="#333" /><text transform="translate(167.2 1526) rotate(90)" font-size="19" stroke="#fff" stroke-width="0.42" >A</text>
<rect x="136.5" y="1776" width="140.2" height="59" rx="0" stroke="#444" />
<path d="M1211 1812L1211 1835.3L285.8 1835.3L285.8 1776L433 1776" stroke="#444" />
<path d="M444 1776L444 1812L1211 1812" stroke="#444" />
<rect x="451" y="1781" width="522" height="21" rx="0" stroke="#444" />
<path d="M1151 1759.5L1210.8 1759.5L1210.8 1797.5L1142 1797.5" stroke="#444" />
<text x="299" y="1806.7" font-size="34.5" fill="none" stroke="#444" stroke-width="0.8" style="fill:none;stroke:#444" textLength="130" lengthAdjust="spacing">KHSD</text>
<text transform="translate(472.5 1797) scale(0.854 1)" font-size="14" letter-spacing="2.00" stroke="#fff" stroke-width="0.24" >45'</text>
<text transform="translate(517.7 1797) scale(0.984 1)" font-size="14" letter-spacing="2.35" stroke="#fff" stroke-width="0.24" >CATAMARAN</text>
<text transform="translate(300 1827) scale(1.000 1)" font-size="10" letter-spacing="1.55" stroke="#fff" stroke-width="0.1" >KURT HUGHES SAILING DESIGNS-</text>
<text transform="translate(518 1827) scale(1.000 1)" font-size="10" letter-spacing="2.49" stroke="#fff" stroke-width="0.1" >612 1/2 W. McGRAW, SEATTLE, WA. 98119</text>
<text transform="translate(820 1827) scale(0.929 1)" font-size="10" letter-spacing="2.26" stroke="#fff" stroke-width="0.1" >USA</text>
<text transform="translate(868 1827) scale(1.000 1)" font-size="10" letter-spacing="2.81" stroke="#fff" stroke-width="0.1" >(206)284-6346</text>
<text transform="translate(992 1827) scale(1.000 1)" font-size="10" letter-spacing="2.70" stroke="#fff" stroke-width="0.1" >FAX-(206)283-4106</text>
<text transform="translate(1128.8 1777.9) scale(1.000 1)" font-size="10.5" letter-spacing="3.17" stroke="#fff" stroke-width="0.12" >06/12/'93</text>
<text transform="translate(1128.8 1792.2) scale(1.000 1)" font-size="10.5" letter-spacing="3.17" stroke="#fff" stroke-width="0.12" >02/02/'93</text>
<rect x="449.2" y="406.2" width="32.5" height="64.8" rx="0" />
<g transform="translate(1525 0) scale(-1 1)"><rect x="449.2" y="406.2" width="32.5" height="64.8" rx="0" /></g>
<path d="M357.4 391L357.4 441" stroke="#555" stroke-dasharray="1 7.2"/>
<path d="M363.5 445.3L404 445.3" stroke="#555" stroke-dasharray="1 7"/>
<path d="M563 309L763 309" stroke-width="1.1" />
<path d="M563 305L563 473" stroke-width="1" />
<path d="M683 305L683 458" stroke="#777" />
<path d="M762.5 303L762.5 312" stroke="#777" />
<circle cx="563" cy="309" r="1.2" fill="#222"/>
<circle cx="683" cy="309" r="1.2" fill="#222"/>
<circle cx="762.5" cy="309" r="1.2" fill="#222"/>
<text transform="translate(603 305.5) scale(0.910 1)" font-size="10" letter-spacing="0.99" stroke="#fff" stroke-width="0.1" >3' 2 1/4&quot;</text>
<text transform="translate(703 305.5) scale(0.887 1)" font-size="10" letter-spacing="0.99" stroke="#fff" stroke-width="0.1" >2' 1 5/8&quot;</text>
<text transform="translate(1013.4 152) rotate(90) scale(0.739 1)" font-size="24" letter-spacing="4.54" stroke="#fff" stroke-width="0.59" >NOTES</text>
<text transform="translate(992.1 150) rotate(90)" font-size="13.5" stroke="#fff" stroke-width="0.22" >1</text>
<text transform="translate(992.1 180) rotate(90) scale(0.832 1)" font-size="13.5" letter-spacing="1.73" stroke="#fff" stroke-width="0.22" >VERIFY ACTUAL INTERIOR, ENGINE &amp;</text>
<text transform="translate(980.1 180) rotate(90) scale(0.723 1)" font-size="13.5" letter-spacing="1.92" stroke="#fff" stroke-width="0.22" >RUDDER LOCATIONS WITH OWNER.</text>
<text transform="translate(963.1 150) rotate(90)" font-size="13.5" stroke="#fff" stroke-width="0.22" >2</text>
<text transform="translate(963.1 180) rotate(90) scale(0.751 1)" font-size="13.5" letter-spacing="1.91" stroke="#fff" stroke-width="0.22" >VERIFY COMPOSITE BULKHEAD SCHEDULE</text>
<text transform="translate(940.1 150) rotate(90)" font-size="13.5" stroke="#fff" stroke-width="0.22" >3</text>
<text transform="translate(940.1 180) rotate(90) scale(0.775 1)" font-size="13.5" letter-spacing="1.86" stroke="#fff" stroke-width="0.22" >SEE DETAILED CONSTRUCTION NOTES.</text>
<text transform="translate(917.1 150) rotate(90)" font-size="13.5" stroke="#fff" stroke-width="0.22" >4</text>
<text transform="translate(917.1 180) rotate(90) scale(0.792 1)" font-size="13.5" letter-spacing="1.82" stroke="#fff" stroke-width="0.22" >VERIFY WINDOW LOCATIONS ON SIDE VIEW</text>
<text transform="translate(858 283) rotate(90) scale(0.930 1)" font-size="11" letter-spacing="1.32" stroke="#fff" stroke-width="0.14" >TOP FAIRING 1/2&quot; PLY</text>
<text transform="translate(838 283) rotate(90) scale(0.884 1)" font-size="11" letter-spacing="1.39" stroke="#fff" stroke-width="0.14" >BOTTOM FAIRING 1/2&quot; PLY</text>
<text transform="translate(818 283) rotate(90) scale(0.892 1)" font-size="11" letter-spacing="1.39" stroke="#fff" stroke-width="0.14" >FAIRING BULKHEAD 1/2&quot; PLY</text>
<text transform="translate(798 283) rotate(90) scale(0.757 1)" font-size="11" letter-spacing="1.66" stroke="#fff" stroke-width="0.14" >ROVE &amp; COVE</text>
<path d="M865 413C864.8 416.3 863.2 424.8 863.5 433C863.8 441.2 865.6 453.1 867 462C868.4 470.9 870.9 482.6 871.7 486.7" stroke-width="0.9" /><path d="M871.7 486.7L872.7 479.8" stroke-width="0.9" /><path d="M871.7 486.7L868.2 480.6" stroke-width="0.9" />
<path d="M843 433C843.5 437.2 844.7 451.2 846 458C847.3 464.8 849.2 469.2 851 474C852.8 478.8 855.8 484.6 856.7 486.7" stroke-width="0.9" /><path d="M856.7 486.7L856.1 479.7" stroke-width="0.9" /><path d="M856.7 486.7L851.9 481.6" stroke-width="0.9" />
<path d="M823 448C823.4 451 824 460.7 825.5 466C827 471.3 829.6 476.3 832 480C834.4 483.7 838.7 486.7 840 488" stroke-width="0.9" /><path d="M840 488L836.9 481.7" stroke-width="0.9" /><path d="M840 488L833.7 484.9" stroke-width="0.9" />
<path d="M800 355C796.1 358.1 786.2 366.9 776.7 373.3C767.2 379.7 754.4 387.1 743.3 393.3C732.2 399.5 721.1 405.1 710 410.7C698.9 416.3 687.8 421.8 676.7 426.7C665.6 431.6 654.4 436.1 643.3 440C632.2 443.9 621.1 447.1 610 450C598.9 452.9 587.8 455.2 576.7 457.3C565.6 459.4 554.4 461.4 543.3 462.7C532.2 464 517.8 464.3 510 465C502.2 465.7 498.9 466.4 496.7 466.7" stroke-width="0.9" />
<text transform="translate(702 1518) rotate(90) scale(0.873 1)" font-size="11" letter-spacing="1.43" stroke="#fff" stroke-width="0.14" >(2)1/2&quot; PLYWOOD</text>
<text transform="translate(682 1518) rotate(90) scale(0.824 1)" font-size="11" letter-spacing="1.55" stroke="#fff" stroke-width="0.14" >3/8&quot; PLYWOOD</text>
<text transform="translate(662 1518) rotate(90) scale(0.733 1)" font-size="11" letter-spacing="1.81" stroke="#fff" stroke-width="0.14" >COMPOSITE</text>
<text transform="translate(642 1518) rotate(90) scale(0.768 1)" font-size="11" letter-spacing="1.66" stroke="#fff" stroke-width="0.14" >ROVE &amp; COVE</text>
<text transform="translate(622 1518) rotate(90) scale(0.849 1)" font-size="11" letter-spacing="1.44" stroke="#fff" stroke-width="0.14" >1/2&quot; PLY DOUBLER BOTH FACES</text>
<text transform="translate(603 1518) rotate(90) scale(0.995 1)" font-size="11" letter-spacing="1.25" stroke="#fff" stroke-width="0.14" >TOP FAIRING (2) 1/4&quot; PLY</text>
<text transform="translate(583 1518) rotate(90) scale(0.937 1)" font-size="11" letter-spacing="1.31" stroke="#fff" stroke-width="0.14" >BOTTOM FAIRING (2) 1/4&quot; PLY</text>
<text transform="translate(563 1518) rotate(90) scale(0.931 1)" font-size="11" letter-spacing="1.32" stroke="#fff" stroke-width="0.14" >FAIRING BULKHEAD (2) 1/2&quot; PLY</text>
<text transform="translate(543 1518) rotate(90) scale(0.930 1)" font-size="11" letter-spacing="1.32" stroke="#fff" stroke-width="0.14" >STRINGER 3/4&quot;X 1-1/2&quot;FLAT</text>
<text transform="translate(533 1518) rotate(90) scale(0.833 1)" font-size="11" letter-spacing="1.51" stroke="#fff" stroke-width="0.14" >UPPER FAIRING ONLY</text>
<text transform="translate(523 1683) rotate(90) scale(0.914 1)" font-size="11" letter-spacing="1.42" stroke="#fff" stroke-width="0.14" >3/8&quot; LEXAN</text>
<text transform="translate(513 1683) rotate(90) scale(0.787 1)" font-size="11" letter-spacing="1.68" stroke="#fff" stroke-width="0.14" >TYPICAL</text>
<text transform="translate(920 1568) rotate(90) scale(0.809 1)" font-size="11" letter-spacing="1.62" stroke="#fff" stroke-width="0.14" >CABIN ABOVE</text>
<text transform="translate(950 1568) rotate(90) scale(0.757 1)" font-size="11" letter-spacing="1.68" stroke="#fff" stroke-width="0.14" >HATCHES ABOVE</text>
<path d="M706 1516C706.2 1511.7 705.5 1498.5 707 1490C708.5 1481.5 710.3 1472.5 715 1465C719.7 1457.5 727.4 1450.6 735 1445C742.6 1439.4 756.3 1433.8 760.6 1431.6" stroke-width="0.9" /><path d="M760.6 1431.6L753.7 1432.7" stroke-width="0.9" /><path d="M760.6 1431.6L755.8 1436.7" stroke-width="0.9" />
<path d="M686 1516C686.2 1510 685.7 1490.2 687 1480C688.3 1469.8 690.9 1462.3 694 1455C697.1 1447.7 703.7 1439.2 705.6 1436" stroke-width="0.9" /><path d="M705.6 1436L700.2 1440.5" stroke-width="0.9" /><path d="M705.6 1436L704.1 1442.8" stroke-width="0.9" />
<path d="M667 1516C666.8 1511 667.7 1497 666 1486C664.3 1475 660.5 1459.3 657 1450C653.5 1440.7 647.2 1433.4 645.2 1430.1" stroke-width="0.9" /><path d="M645.2 1430.1L646.6 1437" stroke-width="0.9" /><path d="M645.2 1430.1L650.5 1434.6" stroke-width="0.9" />
<path d="M646 1516C646.1 1508.3 645.8 1485.2 646.5 1470C647.2 1454.8 647.8 1440 650 1425C652.2 1410 655.5 1395.8 660 1380C664.5 1364.2 670.3 1347.5 677 1330C683.7 1312.5 692 1292.5 700 1275C708 1257.5 717.5 1238.7 725 1225C732.5 1211.3 739.4 1201.2 745 1193C750.6 1184.8 756.6 1178.5 758.9 1175.6" stroke-width="0.9" /><path d="M758.9 1175.6L753 1179.4" stroke-width="0.9" /><path d="M758.9 1175.6L756.5 1182.2" stroke-width="0.9" />
<path d="M626 1516C626.1 1511.7 626.2 1500.5 626.9 1490C627.6 1479.5 628.6 1468.7 630 1452.8C631.4 1436.9 633.2 1410.7 635.5 1394.5C637.8 1378.3 639.5 1370.8 644 1355.7C648.5 1340.6 655.3 1322 662.5 1304C669.7 1286 678.5 1264.7 687.3 1247.8C696.1 1230.9 706.7 1215 715.3 1202.6C723.9 1190.2 735 1178.3 739 1173.4" stroke-width="0.9" /><path d="M739 1173.4L733.1 1177.1" stroke-width="0.9" /><path d="M739 1173.4L736.6 1180" stroke-width="0.9" />
<path d="M607 1516C606.3 1508.3 605.5 1485.2 603 1470C600.5 1454.8 595.4 1435.7 592 1425C588.6 1414.3 584.2 1408.9 582.7 1405.7" stroke-width="0.9" /><path d="M582.7 1405.7L583.5 1412.7" stroke-width="0.9" /><path d="M582.7 1405.7L587.6 1410.7" stroke-width="0.9" />
<path d="M587 1516C586.7 1508.3 587.2 1485.5 585 1470C582.8 1454.5 577.8 1434.5 574 1423C570.2 1411.5 564.2 1404.7 562.2 1401" stroke-width="0.9" /><path d="M562.2 1401L563.3 1407.9" stroke-width="0.9" /><path d="M562.2 1401L567.3 1405.8" stroke-width="0.9" />
<path d="M567 1516C566.2 1510.8 564.2 1499.2 562 1485C559.8 1470.8 557.1 1452.5 553.5 1431C549.9 1409.5 546 1381.9 540.6 1355.7C535.2 1329.5 527.7 1297.1 521.2 1273.7C514.7 1250.3 506.7 1228.6 501.8 1215.5C496.9 1202.4 493.7 1198.4 492.1 1195" stroke-width="0.9" /><path d="M492.1 1195L492.9 1202" stroke-width="0.9" /><path d="M492.1 1195L497 1200" stroke-width="0.9" />
<path d="M549 1516C548.8 1508.3 549 1483.2 548 1470C547 1456.8 545.1 1446.6 543 1436.7C540.9 1426.8 536.5 1415 535.2 1410.7" stroke-width="0.9" /><path d="M535.2 1410.7L534.9 1417.7" stroke-width="0.9" /><path d="M535.2 1410.7L539.3 1416.4" stroke-width="0.9" />
<path d="M526.7 1681.7C526.1 1676.9 525.8 1660.6 523 1653C520.2 1645.4 514.7 1640.4 510 1636C505.3 1631.6 503.1 1629.4 495 1626.7C486.9 1624 470.9 1620.5 461.7 1620C452.5 1619.5 445.7 1621.9 440 1624C434.3 1626.1 429.6 1631.1 427.5 1632.5" stroke-width="0.9" /><path d="M427.5 1632.5L434.3 1630.7" stroke-width="0.9" /><path d="M427.5 1632.5L431.7 1626.9" stroke-width="0.9" />
<path d="M924.3 1566C924.1 1552.8 924.7 1505.6 923 1486.7C921.3 1467.8 917.7 1467.5 914 1452.8C910.3 1438.1 906 1416.4 901 1398.8C896 1381.2 890.4 1363.9 883.7 1347C877.1 1330.1 864.9 1305.8 861.1 1297.5" stroke-width="0.9" /><path d="M861.1 1297.5L861.8 1304.5" stroke-width="0.9" /><path d="M861.1 1297.5L865.9 1302.6" stroke-width="0.9" />
<path d="M955 1566.7C956.7 1558.9 962.9 1532.9 965 1520C967.1 1507.1 968.1 1500.6 967.9 1489.4C967.6 1478.2 965.6 1466.1 963.5 1452.8C961.4 1439.5 958.8 1423.4 955 1409.6C951.2 1395.8 943.2 1376.3 940.9 1369.7" stroke-width="0.9" /><path d="M940.9 1369.7L941 1376.7" stroke-width="0.9" /><path d="M940.9 1369.7L945.2 1375.2" stroke-width="0.9" />
<text transform="translate(503.4 1517) rotate(90) scale(0.845 1)" font-size="10" letter-spacing="1.51" stroke="#fff" stroke-width="0.1" >ROVE &amp; COVE</text>
<text transform="translate(483.4 1517) rotate(90) scale(0.865 1)" font-size="10" letter-spacing="1.43" stroke="#fff" stroke-width="0.1" >COMPOSITE TYPICAL</text>
<text transform="translate(493.4 1683) rotate(90) scale(0.921 1)" font-size="10" letter-spacing="1.37" stroke="#fff" stroke-width="0.1" >3/8&quot; DOUBLER</text>
<text transform="translate(483.4 1683) rotate(90) scale(0.843 1)" font-size="10" letter-spacing="1.42" stroke="#fff" stroke-width="0.1" >FORE &amp; AFT</text>
<text transform="translate(463.4 1683) rotate(90) scale(0.806 1)" font-size="10" letter-spacing="1.65" stroke="#fff" stroke-width="0.1" >COMPOSITE</text>
<text transform="translate(453.4 1683) rotate(90) scale(0.738 1)" font-size="10" letter-spacing="2.03" stroke="#fff" stroke-width="0.1" >STEM</text>
<text transform="translate(310.2 1613.3) rotate(90) scale(0.692 1)" font-size="12.5" letter-spacing="1.98" stroke="#fff" stroke-width="0.19" >WATERTIGHT</text>
<text transform="translate(292.2 1613.3) rotate(90) scale(0.706 1)" font-size="12.5" letter-spacing="1.91" stroke="#fff" stroke-width="0.19" >BULKHEAD P&amp;S</text>
<text transform="translate(343 1680.8) rotate(90) scale(0.873 1)" font-size="11" letter-spacing="1.61" stroke="#fff" stroke-width="0.14" >COLLISION</text>
<text transform="translate(333 1680.8) rotate(90) scale(0.802 1)" font-size="11" letter-spacing="1.68" stroke="#fff" stroke-width="0.14" >BULKHEAD P&amp;S</text>
<text transform="translate(357.2 1740.8) rotate(90) scale(0.940 1)" font-size="10" letter-spacing="1.28" stroke="#fff" stroke-width="0.1" >1/2&quot;</text>
<path d="M314 1610C313.7 1608.3 311.3 1604 312 1600C312.7 1596 313.8 1589.7 318 1586C322.2 1582.3 331 1578 337 1578C343 1578 349.9 1582.3 354 1586C358.1 1589.7 360.4 1597.7 361.7 1600" stroke-width="0.9" />
<path d="M350 1679C353 1680.8 362.2 1684.5 368 1690C373.8 1695.5 380.8 1704.2 385 1712C389.2 1719.8 392.1 1730 393.3 1736.7C394.5 1743.4 392.7 1747.6 392 1752C391.3 1756.4 389.5 1761.2 389 1763" stroke-width="0.9" />
<path d="M485 1514C480.8 1514.2 468.1 1513.5 460 1515C451.9 1516.5 443.2 1518.5 436.7 1523C430.2 1527.5 424.3 1534.7 421 1542C417.7 1549.3 417 1559.5 416.7 1566.7C416.4 1573.9 417.8 1579.8 419 1585C420.2 1590.2 423.2 1595.8 424 1598" stroke-width="0.9" />
<path d="M485 1679C480.8 1679.5 468.1 1679.9 460 1682C451.9 1684.1 443.4 1687 436.7 1691.7C430 1696.4 424.2 1703.1 420 1710C415.8 1716.9 413.5 1724.2 411.7 1733C409.9 1741.8 409.4 1758 409 1763" stroke-width="0.9" />
<path d="M456.7 1704C456.7 1708.8 457.8 1724 456.7 1733C455.6 1742 453.3 1750.2 450 1758C446.7 1765.8 442 1773 436.7 1780C431.4 1787 424 1794.3 418 1800C412 1805.7 403.7 1811.7 400.8 1814" stroke-width="0.9" /><path d="M400.8 1814L407.4 1811.6" stroke-width="0.9" /><path d="M400.8 1814L404.5 1808.1" stroke-width="0.9" />
<path d="M507 1516C506.7 1513.3 506.7 1504.8 505 1500C503.3 1495.2 500.5 1490.4 497 1487C493.5 1483.6 488.8 1481.2 484 1479.5C479.2 1477.8 470.9 1477.2 468.3 1476.7" stroke-width="0.9" /><path d="M468.3 1476.7L474.4 1480.1" stroke-width="0.9" /><path d="M468.3 1476.7L475.2 1475.6" stroke-width="0.9" />
</svg></body></html>
